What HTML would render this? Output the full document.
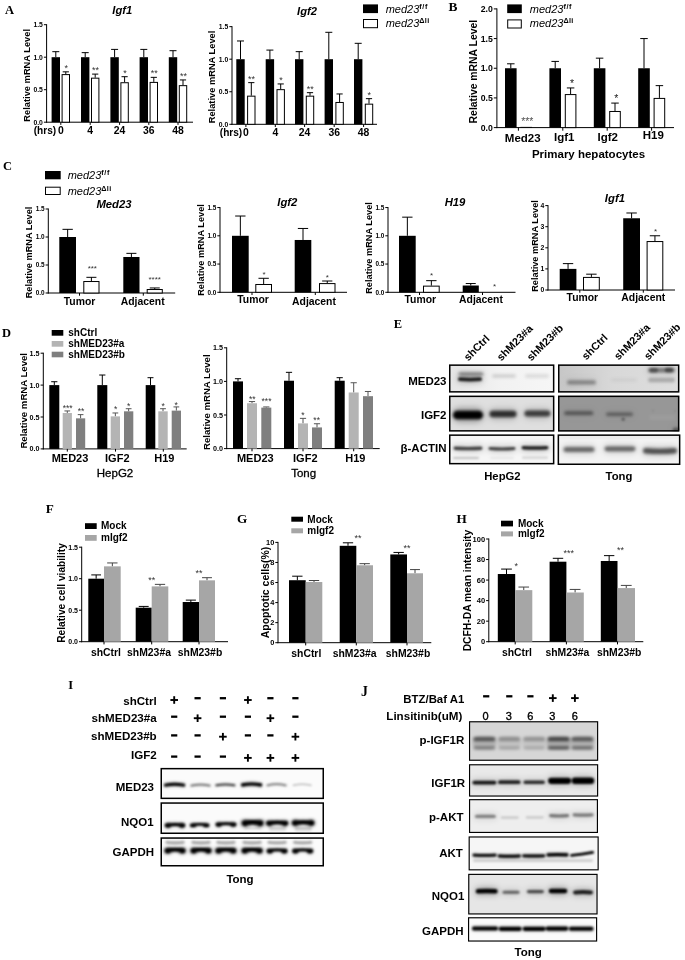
<!DOCTYPE html>
<html lang="en"><head><meta charset="utf-8"><title>Figure</title>
<style>
html,body{margin:0;padding:0;background:#fff}
svg{display:block;filter:blur(.38px)}
svg text{font-family:"Liberation Sans", sans-serif}
svg text.sf{font-family:"Liberation Serif", serif}
</style></head><body>
<svg width="685" height="960" viewBox="0 0 685 960">
<rect width="685" height="960" fill="#fff"/>
<g id="panelA">
<text x="5" y="13.6" font-size="12.5" text-anchor="start" font-weight="bold" class="sf">A</text>
<text x="122.3" y="13.8" font-size="11.2" text-anchor="middle" font-weight="bold" font-style="italic">Igf1</text>
<line x1="46.6" y1="24.2" x2="46.6" y2="122.7" stroke="#000" stroke-width="1"/>
<line x1="46.1" y1="122.2" x2="193" y2="122.2" stroke="#000" stroke-width="1"/>
<line x1="43.9" y1="24.7" x2="46.6" y2="24.7" stroke="#000" stroke-width="1"/>
<text x="42.9" y="27.15" font-size="6.8" text-anchor="end" font-weight="bold">1.5</text>
<line x1="43.9" y1="57.2" x2="46.6" y2="57.2" stroke="#000" stroke-width="1"/>
<text x="42.9" y="59.65" font-size="6.8" text-anchor="end" font-weight="bold">1.0</text>
<line x1="43.9" y1="89.7" x2="46.6" y2="89.7" stroke="#000" stroke-width="1"/>
<text x="42.9" y="92.15" font-size="6.8" text-anchor="end" font-weight="bold">0.5</text>
<line x1="43.9" y1="122.2" x2="46.6" y2="122.2" stroke="#000" stroke-width="1"/>
<text x="42.9" y="124.65" font-size="6.8" text-anchor="end" font-weight="bold">0.0</text>
<text transform="translate(30.2 75.3) rotate(-90)" font-size="9.3" text-anchor="middle" font-weight="bold">Relative mRNA Level</text>
<line x1="55.8" y1="57.2" x2="55.8" y2="51.68" stroke="#000" stroke-width="1"/>
<line x1="52.3" y1="51.68" x2="59.3" y2="51.68" stroke="#000" stroke-width="1"/>
<rect x="51.6" y="57.2" width="8.4" height="65" fill="#000"/>
<line x1="65.8" y1="74.1" x2="65.8" y2="71.83" stroke="#000" stroke-width="1"/>
<line x1="62.7" y1="71.83" x2="68.9" y2="71.83" stroke="#000" stroke-width="1"/>
<rect x="62.1" y="74.6" width="7.4" height="47.6" fill="#fff" stroke="#000" stroke-width="1"/>
<text x="66.2" y="70.92" font-size="9" text-anchor="middle" fill="#333">*</text>
<line x1="85.2" y1="57.2" x2="85.2" y2="52.65" stroke="#000" stroke-width="1"/>
<line x1="81.7" y1="52.65" x2="88.7" y2="52.65" stroke="#000" stroke-width="1"/>
<rect x="81" y="57.2" width="8.4" height="65" fill="#000"/>
<line x1="95.2" y1="77.67" x2="95.2" y2="74.1" stroke="#000" stroke-width="1"/>
<line x1="92.1" y1="74.1" x2="98.3" y2="74.1" stroke="#000" stroke-width="1"/>
<rect x="91.5" y="78.17" width="7.4" height="44.03" fill="#fff" stroke="#000" stroke-width="1"/>
<text x="95.6" y="73.2" font-size="9" text-anchor="middle" fill="#333">**</text>
<line x1="114.6" y1="57.2" x2="114.6" y2="49.4" stroke="#000" stroke-width="1"/>
<line x1="111.1" y1="49.4" x2="118.1" y2="49.4" stroke="#000" stroke-width="1"/>
<rect x="110.4" y="57.2" width="8.4" height="65" fill="#000"/>
<line x1="124.6" y1="82.22" x2="124.6" y2="76.7" stroke="#000" stroke-width="1"/>
<line x1="121.5" y1="76.7" x2="127.7" y2="76.7" stroke="#000" stroke-width="1"/>
<rect x="120.9" y="82.72" width="7.4" height="39.48" fill="#fff" stroke="#000" stroke-width="1"/>
<text x="125" y="75.8" font-size="9" text-anchor="middle" fill="#333">*</text>
<line x1="143.8" y1="57.2" x2="143.8" y2="49.4" stroke="#000" stroke-width="1"/>
<line x1="140.3" y1="49.4" x2="147.3" y2="49.4" stroke="#000" stroke-width="1"/>
<rect x="139.6" y="57.2" width="8.4" height="65" fill="#000"/>
<line x1="153.8" y1="81.9" x2="153.8" y2="77.35" stroke="#000" stroke-width="1"/>
<line x1="150.7" y1="77.35" x2="156.9" y2="77.35" stroke="#000" stroke-width="1"/>
<rect x="150.1" y="82.4" width="7.4" height="39.8" fill="#fff" stroke="#000" stroke-width="1"/>
<text x="154.2" y="76.45" font-size="9" text-anchor="middle" fill="#333">**</text>
<line x1="173" y1="57.2" x2="173" y2="50.7" stroke="#000" stroke-width="1"/>
<line x1="169.5" y1="50.7" x2="176.5" y2="50.7" stroke="#000" stroke-width="1"/>
<rect x="168.8" y="57.2" width="8.4" height="65" fill="#000"/>
<line x1="183" y1="85.15" x2="183" y2="79.95" stroke="#000" stroke-width="1"/>
<line x1="179.9" y1="79.95" x2="186.1" y2="79.95" stroke="#000" stroke-width="1"/>
<rect x="179.3" y="85.65" width="7.4" height="36.55" fill="#fff" stroke="#000" stroke-width="1"/>
<text x="183.4" y="79.05" font-size="9" text-anchor="middle" fill="#333">**</text>
<line x1="60.8" y1="122.2" x2="60.8" y2="124.9" stroke="#000" stroke-width="1"/>
<line x1="90.2" y1="122.2" x2="90.2" y2="124.9" stroke="#000" stroke-width="1"/>
<line x1="119.6" y1="122.2" x2="119.6" y2="124.9" stroke="#000" stroke-width="1"/>
<line x1="148.8" y1="122.2" x2="148.8" y2="124.9" stroke="#000" stroke-width="1"/>
<line x1="178" y1="122.2" x2="178" y2="124.9" stroke="#000" stroke-width="1"/>
<text x="33.7" y="134" font-size="10.1" text-anchor="start" font-weight="bold">(hrs)</text>
<text x="60.8" y="134" font-size="10.4" text-anchor="middle" font-weight="bold">0</text>
<text x="90.2" y="134" font-size="10.4" text-anchor="middle" font-weight="bold">4</text>
<text x="119.6" y="134" font-size="10.4" text-anchor="middle" font-weight="bold">24</text>
<text x="148.8" y="134" font-size="10.4" text-anchor="middle" font-weight="bold">36</text>
<text x="178" y="134" font-size="10.4" text-anchor="middle" font-weight="bold">48</text>
<text x="307" y="14.9" font-size="11.2" text-anchor="middle" font-weight="bold" font-style="italic">Igf2</text>
<line x1="232" y1="26.15" x2="232" y2="124.8" stroke="#000" stroke-width="1"/>
<line x1="231.5" y1="124.3" x2="377" y2="124.3" stroke="#000" stroke-width="1"/>
<line x1="229.3" y1="26.65" x2="232" y2="26.65" stroke="#000" stroke-width="1"/>
<text x="228.3" y="29.1" font-size="6.8" text-anchor="end" font-weight="bold">1.5</text>
<line x1="229.3" y1="59.2" x2="232" y2="59.2" stroke="#000" stroke-width="1"/>
<text x="228.3" y="61.65" font-size="6.8" text-anchor="end" font-weight="bold">1.0</text>
<line x1="229.3" y1="91.75" x2="232" y2="91.75" stroke="#000" stroke-width="1"/>
<text x="228.3" y="94.2" font-size="6.8" text-anchor="end" font-weight="bold">0.5</text>
<line x1="229.3" y1="124.3" x2="232" y2="124.3" stroke="#000" stroke-width="1"/>
<text x="228.3" y="126.75" font-size="6.8" text-anchor="end" font-weight="bold">0.0</text>
<text transform="translate(214.6 77) rotate(-90)" font-size="9.3" text-anchor="middle" font-weight="bold">Relative mRNA Level</text>
<line x1="240.5" y1="59.2" x2="240.5" y2="40.97" stroke="#000" stroke-width="1"/>
<line x1="237" y1="40.97" x2="244" y2="40.97" stroke="#000" stroke-width="1"/>
<rect x="236.3" y="59.2" width="8.4" height="65.1" fill="#000"/>
<line x1="251.3" y1="95.66" x2="251.3" y2="82.64" stroke="#000" stroke-width="1"/>
<line x1="248.2" y1="82.64" x2="254.4" y2="82.64" stroke="#000" stroke-width="1"/>
<rect x="247.6" y="96.16" width="7.4" height="28.14" fill="#fff" stroke="#000" stroke-width="1"/>
<text x="251.5" y="81.74" font-size="9" text-anchor="middle" fill="#333">**</text>
<line x1="269.9" y1="59.2" x2="269.9" y2="50.09" stroke="#000" stroke-width="1"/>
<line x1="266.4" y1="50.09" x2="273.4" y2="50.09" stroke="#000" stroke-width="1"/>
<rect x="265.7" y="59.2" width="8.4" height="65.1" fill="#000"/>
<line x1="280.7" y1="89.15" x2="280.7" y2="83.94" stroke="#000" stroke-width="1"/>
<line x1="277.6" y1="83.94" x2="283.8" y2="83.94" stroke="#000" stroke-width="1"/>
<rect x="277" y="89.65" width="7.4" height="34.65" fill="#fff" stroke="#000" stroke-width="1"/>
<text x="280.9" y="83.04" font-size="9" text-anchor="middle" fill="#333">*</text>
<line x1="299.2" y1="59.2" x2="299.2" y2="51.65" stroke="#000" stroke-width="1"/>
<line x1="295.7" y1="51.65" x2="302.7" y2="51.65" stroke="#000" stroke-width="1"/>
<rect x="295" y="59.2" width="8.4" height="65.1" fill="#000"/>
<line x1="310" y1="95.66" x2="310" y2="92.66" stroke="#000" stroke-width="1"/>
<line x1="306.9" y1="92.66" x2="313.1" y2="92.66" stroke="#000" stroke-width="1"/>
<rect x="306.3" y="96.16" width="7.4" height="28.14" fill="#fff" stroke="#000" stroke-width="1"/>
<text x="310.2" y="91.76" font-size="9" text-anchor="middle" fill="#333">**</text>
<line x1="328.8" y1="59.2" x2="328.8" y2="32.31" stroke="#000" stroke-width="1"/>
<line x1="325.3" y1="32.31" x2="332.3" y2="32.31" stroke="#000" stroke-width="1"/>
<rect x="324.6" y="59.2" width="8.4" height="65.1" fill="#000"/>
<line x1="339.6" y1="101.97" x2="339.6" y2="93.96" stroke="#000" stroke-width="1"/>
<line x1="336.5" y1="93.96" x2="342.7" y2="93.96" stroke="#000" stroke-width="1"/>
<rect x="335.9" y="102.47" width="7.4" height="21.83" fill="#fff" stroke="#000" stroke-width="1"/>
<line x1="358.2" y1="59.2" x2="358.2" y2="43.32" stroke="#000" stroke-width="1"/>
<line x1="354.7" y1="43.32" x2="361.7" y2="43.32" stroke="#000" stroke-width="1"/>
<rect x="354" y="59.2" width="8.4" height="65.1" fill="#000"/>
<line x1="369" y1="103.66" x2="369" y2="98.65" stroke="#000" stroke-width="1"/>
<line x1="365.9" y1="98.65" x2="372.1" y2="98.65" stroke="#000" stroke-width="1"/>
<rect x="365.3" y="104.16" width="7.4" height="20.14" fill="#fff" stroke="#000" stroke-width="1"/>
<text x="369.2" y="97.75" font-size="9" text-anchor="middle" fill="#333">*</text>
<line x1="245.9" y1="124.3" x2="245.9" y2="127" stroke="#000" stroke-width="1"/>
<line x1="275.3" y1="124.3" x2="275.3" y2="127" stroke="#000" stroke-width="1"/>
<line x1="304.6" y1="124.3" x2="304.6" y2="127" stroke="#000" stroke-width="1"/>
<line x1="334.2" y1="124.3" x2="334.2" y2="127" stroke="#000" stroke-width="1"/>
<line x1="363.6" y1="124.3" x2="363.6" y2="127" stroke="#000" stroke-width="1"/>
<text x="219.8" y="136.2" font-size="10.1" text-anchor="start" font-weight="bold">(hrs)</text>
<text x="245.9" y="136.2" font-size="10.4" text-anchor="middle" font-weight="bold">0</text>
<text x="275.3" y="136.2" font-size="10.4" text-anchor="middle" font-weight="bold">4</text>
<text x="304.6" y="136.2" font-size="10.4" text-anchor="middle" font-weight="bold">24</text>
<text x="334.2" y="136.2" font-size="10.4" text-anchor="middle" font-weight="bold">36</text>
<text x="363.6" y="136.2" font-size="10.4" text-anchor="middle" font-weight="bold">48</text>
<rect x="363" y="4.4" width="15" height="8.7" fill="#000"/>
<rect x="363.5" y="19.5" width="14" height="8.2" fill="#fff" stroke="#000" stroke-width="1"/>
<text x="385.7" y="12.8" font-size="11" font-style="italic">med23<tspan font-size="7.26" dy="-3.96" font-style="normal" font-weight="bold" letter-spacing=".6">f/f</tspan></text>
<text x="385.7" y="27.4" font-size="11" font-style="italic">med23<tspan font-size="7.26" dy="-3.96" font-style="normal" font-weight="bold" letter-spacing=".3">Δli</tspan></text>
</g>
<g id="panelB">
<text x="448.6" y="10.7" font-size="13.4" text-anchor="start" font-weight="bold" class="sf">B</text>
<line x1="496.9" y1="8.4" x2="496.9" y2="128.1" stroke="#000" stroke-width="1"/>
<line x1="496.4" y1="127.6" x2="674" y2="127.6" stroke="#000" stroke-width="1"/>
<line x1="493.8" y1="8.9" x2="496.9" y2="8.9" stroke="#000" stroke-width="1"/>
<text x="492.8" y="12.03" font-size="8.7" text-anchor="end" font-weight="bold">2.0</text>
<line x1="493.8" y1="38.57" x2="496.9" y2="38.57" stroke="#000" stroke-width="1"/>
<text x="492.8" y="41.71" font-size="8.7" text-anchor="end" font-weight="bold">1.5</text>
<line x1="493.8" y1="68.25" x2="496.9" y2="68.25" stroke="#000" stroke-width="1"/>
<text x="492.8" y="71.38" font-size="8.7" text-anchor="end" font-weight="bold">1.0</text>
<line x1="493.8" y1="97.92" x2="496.9" y2="97.92" stroke="#000" stroke-width="1"/>
<text x="492.8" y="101.06" font-size="8.7" text-anchor="end" font-weight="bold">0.5</text>
<line x1="493.8" y1="127.6" x2="496.9" y2="127.6" stroke="#000" stroke-width="1"/>
<text x="492.8" y="130.73" font-size="8.7" text-anchor="end" font-weight="bold">0.0</text>
<text transform="translate(476.8 71.6) rotate(-90)" font-size="10.4" text-anchor="middle" font-weight="bold">Relative mRNA Level</text>
<line x1="510.8" y1="68.25" x2="510.8" y2="63.8" stroke="#000" stroke-width="1"/>
<line x1="507.05" y1="63.8" x2="514.55" y2="63.8" stroke="#000" stroke-width="1"/>
<rect x="505" y="68.25" width="11.6" height="59.35" fill="#000"/>
<rect x="520.4" y="126.89" width="11.6" height="0.71" fill="#000"/>
<line x1="555.2" y1="68.25" x2="555.2" y2="61.42" stroke="#000" stroke-width="1"/>
<line x1="551.45" y1="61.42" x2="558.95" y2="61.42" stroke="#000" stroke-width="1"/>
<rect x="549.4" y="68.25" width="11.6" height="59.35" fill="#000"/>
<line x1="570.6" y1="94.07" x2="570.6" y2="87.95" stroke="#000" stroke-width="1"/>
<line x1="566.85" y1="87.95" x2="574.35" y2="87.95" stroke="#000" stroke-width="1"/>
<rect x="565.3" y="94.57" width="10.6" height="33.03" fill="#fff" stroke="#000" stroke-width="1"/>
<line x1="599.6" y1="68.25" x2="599.6" y2="58.16" stroke="#000" stroke-width="1"/>
<line x1="595.85" y1="58.16" x2="603.35" y2="58.16" stroke="#000" stroke-width="1"/>
<rect x="593.8" y="68.25" width="11.6" height="59.35" fill="#000"/>
<line x1="615" y1="110.98" x2="615" y2="103.09" stroke="#000" stroke-width="1"/>
<line x1="611.25" y1="103.09" x2="618.75" y2="103.09" stroke="#000" stroke-width="1"/>
<rect x="609.7" y="111.48" width="10.6" height="16.12" fill="#fff" stroke="#000" stroke-width="1"/>
<line x1="644" y1="68.25" x2="644" y2="38.57" stroke="#000" stroke-width="1"/>
<line x1="640.25" y1="38.57" x2="647.75" y2="38.57" stroke="#000" stroke-width="1"/>
<rect x="638.2" y="68.25" width="11.6" height="59.35" fill="#000"/>
<line x1="659.4" y1="97.92" x2="659.4" y2="85.64" stroke="#000" stroke-width="1"/>
<line x1="655.65" y1="85.64" x2="663.15" y2="85.64" stroke="#000" stroke-width="1"/>
<rect x="654.1" y="98.42" width="10.6" height="29.17" fill="#fff" stroke="#000" stroke-width="1"/>
<text x="527.3" y="125.2" font-size="10.5" text-anchor="middle" fill="#555">***</text>
<text x="572" y="87.35" font-size="10.5" text-anchor="middle" fill="#222">*</text>
<text x="616.2" y="102.49" font-size="10.5" text-anchor="middle" fill="#222">*</text>
<line x1="518.4" y1="127.6" x2="518.4" y2="130.7" stroke="#000" stroke-width="1"/>
<line x1="562.8" y1="127.6" x2="562.8" y2="130.7" stroke="#000" stroke-width="1"/>
<line x1="607.2" y1="127.6" x2="607.2" y2="130.7" stroke="#000" stroke-width="1"/>
<line x1="651.6" y1="127.6" x2="651.6" y2="130.7" stroke="#000" stroke-width="1"/>
<text x="522.7" y="141.7" font-size="11.5" text-anchor="middle" font-weight="bold">Med23</text>
<text x="564.3" y="140.7" font-size="11.5" text-anchor="middle" font-weight="bold">Igf1</text>
<text x="607.7" y="140.7" font-size="11.5" text-anchor="middle" font-weight="bold">Igf2</text>
<text x="653.3" y="139.3" font-size="11.5" text-anchor="middle" font-weight="bold">H19</text>
<text x="588.5" y="157.5" font-size="11.5" text-anchor="middle" font-weight="bold">Primary hepatocytes</text>
<rect x="507.2" y="4.4" width="14.6" height="8.7" fill="#000"/>
<rect x="507.7" y="19.9" width="13.6" height="8.1" fill="#fff" stroke="#000" stroke-width="1"/>
<text x="529.8" y="12.8" font-size="11" font-style="italic">med23<tspan font-size="7.26" dy="-3.96" font-style="normal" font-weight="bold" letter-spacing=".6">f/f</tspan></text>
<text x="529.8" y="27.4" font-size="11" font-style="italic">med23<tspan font-size="7.26" dy="-3.96" font-style="normal" font-weight="bold" letter-spacing=".3">Δli</tspan></text>
</g>
<g id="panelC">
<text x="3" y="169.8" font-size="12.5" text-anchor="start" font-weight="bold" class="sf">C</text>
<rect x="45" y="171" width="15.7" height="8.3" fill="#000"/>
<rect x="45.5" y="187.2" width="14.7" height="7.3" fill="#fff" stroke="#000" stroke-width="1"/>
<text x="67.7" y="179.4" font-size="11" font-style="italic">med23<tspan font-size="7.26" dy="-3.96" font-style="normal" font-weight="bold" letter-spacing=".6">f/f</tspan></text>
<text x="67.7" y="194.7" font-size="11" font-style="italic">med23<tspan font-size="7.26" dy="-3.96" font-style="normal" font-weight="bold" letter-spacing=".3">Δli</tspan></text>
<line x1="48.3" y1="208.5" x2="48.3" y2="293.5" stroke="#000" stroke-width="1"/>
<line x1="47.8" y1="293" x2="175.2" y2="293" stroke="#000" stroke-width="1"/>
<line x1="45.6" y1="209" x2="48.3" y2="209" stroke="#000" stroke-width="1"/>
<text x="44.6" y="211.3" font-size="6.4" text-anchor="end" font-weight="bold">1.5</text>
<line x1="45.6" y1="237" x2="48.3" y2="237" stroke="#000" stroke-width="1"/>
<text x="44.6" y="239.3" font-size="6.4" text-anchor="end" font-weight="bold">1.0</text>
<line x1="45.6" y1="265" x2="48.3" y2="265" stroke="#000" stroke-width="1"/>
<text x="44.6" y="267.3" font-size="6.4" text-anchor="end" font-weight="bold">0.5</text>
<line x1="45.6" y1="293" x2="48.3" y2="293" stroke="#000" stroke-width="1"/>
<text x="44.6" y="295.3" font-size="6.4" text-anchor="end" font-weight="bold">0.0</text>
<text transform="translate(32.2 252.5) rotate(-90)" font-size="9.2" text-anchor="middle" font-weight="bold">Relative mRNA Level</text>
<text x="114" y="208.3" font-size="11.3" text-anchor="middle" font-weight="bold" font-style="italic">Med23</text>
<line x1="67.65" y1="237" x2="67.65" y2="229.33" stroke="#000" stroke-width="1"/>
<line x1="62.47" y1="229.33" x2="72.83" y2="229.33" stroke="#000" stroke-width="1"/>
<rect x="59.3" y="237" width="16.7" height="56" fill="#000"/>
<line x1="91.4" y1="281.02" x2="91.4" y2="277.32" stroke="#000" stroke-width="1"/>
<line x1="86.38" y1="277.32" x2="96.42" y2="277.32" stroke="#000" stroke-width="1"/>
<rect x="83.8" y="281.52" width="15.2" height="11.48" fill="#fff" stroke="#000" stroke-width="1"/>
<line x1="131.4" y1="256.99" x2="131.4" y2="253.35" stroke="#000" stroke-width="1"/>
<line x1="126.38" y1="253.35" x2="136.42" y2="253.35" stroke="#000" stroke-width="1"/>
<rect x="123.3" y="256.99" width="16.2" height="36.01" fill="#000"/>
<line x1="154.75" y1="289.02" x2="154.75" y2="287.96" stroke="#000" stroke-width="1"/>
<line x1="149.76" y1="287.96" x2="159.74" y2="287.96" stroke="#000" stroke-width="1"/>
<rect x="147.2" y="289.52" width="15.1" height="3.48" fill="#fff" stroke="#000" stroke-width="1"/>
<text x="92.3" y="271.3" font-size="8" text-anchor="middle" fill="#333">***</text>
<text x="154.7" y="282.2" font-size="8" text-anchor="middle" fill="#333">****</text>
<line x1="79.5" y1="293" x2="79.5" y2="295.7" stroke="#000" stroke-width="1"/>
<text x="79.5" y="305.3" font-size="10.4" text-anchor="middle" font-weight="bold">Tumor</text>
<line x1="143.3" y1="293" x2="143.3" y2="295.7" stroke="#000" stroke-width="1"/>
<text x="142.7" y="305.3" font-size="10.4" text-anchor="middle" font-weight="bold">Adjacent</text>
<line x1="220" y1="207.05" x2="220" y2="292.8" stroke="#000" stroke-width="1"/>
<line x1="219.5" y1="292.3" x2="347" y2="292.3" stroke="#000" stroke-width="1"/>
<line x1="217.3" y1="207.55" x2="220" y2="207.55" stroke="#000" stroke-width="1"/>
<text x="216.3" y="209.85" font-size="6.4" text-anchor="end" font-weight="bold">1.5</text>
<line x1="217.3" y1="235.8" x2="220" y2="235.8" stroke="#000" stroke-width="1"/>
<text x="216.3" y="238.1" font-size="6.4" text-anchor="end" font-weight="bold">1.0</text>
<line x1="217.3" y1="264.05" x2="220" y2="264.05" stroke="#000" stroke-width="1"/>
<text x="216.3" y="266.35" font-size="6.4" text-anchor="end" font-weight="bold">0.5</text>
<line x1="217.3" y1="292.3" x2="220" y2="292.3" stroke="#000" stroke-width="1"/>
<text x="216.3" y="294.6" font-size="6.4" text-anchor="end" font-weight="bold">0.0</text>
<text transform="translate(203.6 250) rotate(-90)" font-size="9.2" text-anchor="middle" font-weight="bold">Relative mRNA Level</text>
<text x="287.3" y="206.3" font-size="11.3" text-anchor="middle" font-weight="bold" font-style="italic">Igf2</text>
<line x1="240.35" y1="235.8" x2="240.35" y2="216.03" stroke="#000" stroke-width="1"/>
<line x1="235.17" y1="216.03" x2="245.53" y2="216.03" stroke="#000" stroke-width="1"/>
<rect x="232" y="235.8" width="16.7" height="56.5" fill="#000"/>
<line x1="263.65" y1="283.99" x2="263.65" y2="278.29" stroke="#000" stroke-width="1"/>
<line x1="258.47" y1="278.29" x2="268.83" y2="278.29" stroke="#000" stroke-width="1"/>
<rect x="255.8" y="284.49" width="15.7" height="7.81" fill="#fff" stroke="#000" stroke-width="1"/>
<line x1="303" y1="239.98" x2="303" y2="228.46" stroke="#000" stroke-width="1"/>
<line x1="297.85" y1="228.46" x2="308.15" y2="228.46" stroke="#000" stroke-width="1"/>
<rect x="294.7" y="239.98" width="16.6" height="52.32" fill="#000"/>
<line x1="327.25" y1="283.09" x2="327.25" y2="281" stroke="#000" stroke-width="1"/>
<line x1="322.13" y1="281" x2="332.37" y2="281" stroke="#000" stroke-width="1"/>
<rect x="319.5" y="283.59" width="15.5" height="8.71" fill="#fff" stroke="#000" stroke-width="1"/>
<text x="264" y="277" font-size="8" text-anchor="middle" fill="#333">*</text>
<text x="327.3" y="279.5" font-size="8" text-anchor="middle" fill="#333">*</text>
<line x1="252" y1="292.3" x2="252" y2="295" stroke="#000" stroke-width="1"/>
<text x="253" y="303.3" font-size="10.4" text-anchor="middle" font-weight="bold">Tumor</text>
<line x1="315.3" y1="292.3" x2="315.3" y2="295" stroke="#000" stroke-width="1"/>
<text x="314" y="305" font-size="10.4" text-anchor="middle" font-weight="bold">Adjacent</text>
<line x1="388" y1="207.05" x2="388" y2="292.8" stroke="#000" stroke-width="1"/>
<line x1="387.5" y1="292.3" x2="515.5" y2="292.3" stroke="#000" stroke-width="1"/>
<line x1="385.3" y1="207.55" x2="388" y2="207.55" stroke="#000" stroke-width="1"/>
<text x="384.3" y="209.85" font-size="6.4" text-anchor="end" font-weight="bold">1.5</text>
<line x1="385.3" y1="235.8" x2="388" y2="235.8" stroke="#000" stroke-width="1"/>
<text x="384.3" y="238.1" font-size="6.4" text-anchor="end" font-weight="bold">1.0</text>
<line x1="385.3" y1="264.05" x2="388" y2="264.05" stroke="#000" stroke-width="1"/>
<text x="384.3" y="266.35" font-size="6.4" text-anchor="end" font-weight="bold">0.5</text>
<line x1="385.3" y1="292.3" x2="388" y2="292.3" stroke="#000" stroke-width="1"/>
<text x="384.3" y="294.6" font-size="6.4" text-anchor="end" font-weight="bold">0.0</text>
<text transform="translate(371.8 248) rotate(-90)" font-size="9.2" text-anchor="middle" font-weight="bold">Relative mRNA Level</text>
<text x="455" y="206.3" font-size="11.3" text-anchor="middle" font-weight="bold" font-style="italic">H19</text>
<line x1="407.35" y1="235.8" x2="407.35" y2="217.16" stroke="#000" stroke-width="1"/>
<line x1="402.17" y1="217.16" x2="412.53" y2="217.16" stroke="#000" stroke-width="1"/>
<rect x="399" y="235.8" width="16.7" height="56.5" fill="#000"/>
<line x1="431.35" y1="285.63" x2="431.35" y2="280.66" stroke="#000" stroke-width="1"/>
<line x1="426.17" y1="280.66" x2="436.53" y2="280.66" stroke="#000" stroke-width="1"/>
<rect x="423.5" y="286.13" width="15.7" height="6.17" fill="#fff" stroke="#000" stroke-width="1"/>
<line x1="470.75" y1="285.52" x2="470.75" y2="283.54" stroke="#000" stroke-width="1"/>
<line x1="465.76" y1="283.54" x2="475.74" y2="283.54" stroke="#000" stroke-width="1"/>
<rect x="462.7" y="285.52" width="16.1" height="6.78" fill="#000"/>
<text x="431.5" y="277.5" font-size="8" text-anchor="middle" fill="#333">*</text>
<text x="494.5" y="289" font-size="8" text-anchor="middle" fill="#333">*</text>
<line x1="419.5" y1="292.3" x2="419.5" y2="295" stroke="#000" stroke-width="1"/>
<text x="420.3" y="303.3" font-size="10.4" text-anchor="middle" font-weight="bold">Tumor</text>
<line x1="482.5" y1="292.3" x2="482.5" y2="295" stroke="#000" stroke-width="1"/>
<text x="481" y="302.7" font-size="10.4" text-anchor="middle" font-weight="bold">Adjacent</text>
<line x1="548" y1="205.1" x2="548" y2="290.5" stroke="#000" stroke-width="1"/>
<line x1="547.5" y1="290" x2="675" y2="290" stroke="#000" stroke-width="1"/>
<line x1="545.3" y1="205.6" x2="548" y2="205.6" stroke="#000" stroke-width="1"/>
<text x="544.3" y="208.05" font-size="6.8" text-anchor="end" font-weight="bold">4</text>
<line x1="545.3" y1="226.7" x2="548" y2="226.7" stroke="#000" stroke-width="1"/>
<text x="544.3" y="229.15" font-size="6.8" text-anchor="end" font-weight="bold">3</text>
<line x1="545.3" y1="247.8" x2="548" y2="247.8" stroke="#000" stroke-width="1"/>
<text x="544.3" y="250.25" font-size="6.8" text-anchor="end" font-weight="bold">2</text>
<line x1="545.3" y1="268.9" x2="548" y2="268.9" stroke="#000" stroke-width="1"/>
<text x="544.3" y="271.35" font-size="6.8" text-anchor="end" font-weight="bold">1</text>
<line x1="545.3" y1="290" x2="548" y2="290" stroke="#000" stroke-width="1"/>
<text x="544.3" y="292.45" font-size="6.8" text-anchor="end" font-weight="bold">0</text>
<text transform="translate(537.8 246) rotate(-90)" font-size="9.2" text-anchor="middle" font-weight="bold">Relative mRNA Level</text>
<text x="614.9" y="202.3" font-size="11.3" text-anchor="middle" font-weight="bold" font-style="italic">Igf1</text>
<line x1="568.05" y1="268.9" x2="568.05" y2="263.62" stroke="#000" stroke-width="1"/>
<line x1="562.87" y1="263.62" x2="573.23" y2="263.62" stroke="#000" stroke-width="1"/>
<rect x="559.7" y="268.9" width="16.7" height="21.1" fill="#000"/>
<line x1="591.4" y1="276.92" x2="591.4" y2="274.18" stroke="#000" stroke-width="1"/>
<line x1="586.19" y1="274.18" x2="596.61" y2="274.18" stroke="#000" stroke-width="1"/>
<rect x="583.5" y="277.42" width="15.8" height="12.58" fill="#fff" stroke="#000" stroke-width="1"/>
<line x1="631.6" y1="218.26" x2="631.6" y2="212.99" stroke="#000" stroke-width="1"/>
<line x1="626.39" y1="212.99" x2="636.81" y2="212.99" stroke="#000" stroke-width="1"/>
<rect x="623.2" y="218.26" width="16.8" height="71.74" fill="#000"/>
<line x1="654.95" y1="241.05" x2="654.95" y2="235.77" stroke="#000" stroke-width="1"/>
<line x1="649.77" y1="235.77" x2="660.13" y2="235.77" stroke="#000" stroke-width="1"/>
<rect x="647.1" y="241.55" width="15.7" height="48.45" fill="#fff" stroke="#000" stroke-width="1"/>
<text x="655.5" y="233.5" font-size="8" text-anchor="middle" fill="#333">*</text>
<line x1="579.8" y1="290" x2="579.8" y2="292.7" stroke="#000" stroke-width="1"/>
<text x="582.4" y="301" font-size="10.4" text-anchor="middle" font-weight="bold">Tumor</text>
<line x1="643.3" y1="290" x2="643.3" y2="292.7" stroke="#000" stroke-width="1"/>
<text x="643.3" y="301" font-size="10.4" text-anchor="middle" font-weight="bold">Adjacent</text>
</g>
<g id="panelD">
<text x="2" y="336.5" font-size="12.5" text-anchor="start" font-weight="bold" class="sf">D</text>
<rect x="51.7" y="330" width="11.6" height="5.7" fill="#000"/>
<text x="68.3" y="335.9" font-size="10" text-anchor="start" font-weight="bold">shCtrl</text>
<rect x="51.7" y="341" width="11.6" height="5.7" fill="#b4b4b4"/>
<text x="68.3" y="346.9" font-size="10" text-anchor="start" font-weight="bold">shMED23#a</text>
<rect x="51.7" y="351.7" width="11.6" height="5.6" fill="#7f7f7f"/>
<text x="68.3" y="357.5" font-size="10" text-anchor="start" font-weight="bold">shMED23#b</text>
<line x1="43.3" y1="352.7" x2="43.3" y2="449.4" stroke="#000" stroke-width="1"/>
<line x1="42.8" y1="448.9" x2="186.7" y2="448.9" stroke="#000" stroke-width="1"/>
<line x1="40.6" y1="353.2" x2="43.3" y2="353.2" stroke="#000" stroke-width="1"/>
<text x="39.6" y="355.79" font-size="7.2" text-anchor="end" font-weight="bold">1.5</text>
<line x1="40.6" y1="385.1" x2="43.3" y2="385.1" stroke="#000" stroke-width="1"/>
<text x="39.6" y="387.69" font-size="7.2" text-anchor="end" font-weight="bold">1.0</text>
<line x1="40.6" y1="417" x2="43.3" y2="417" stroke="#000" stroke-width="1"/>
<text x="39.6" y="419.59" font-size="7.2" text-anchor="end" font-weight="bold">0.5</text>
<line x1="40.6" y1="448.9" x2="43.3" y2="448.9" stroke="#000" stroke-width="1"/>
<text x="39.6" y="451.49" font-size="7.2" text-anchor="end" font-weight="bold">0.0</text>
<text transform="translate(26.9 400.8) rotate(-90)" font-size="9.6" text-anchor="middle" font-weight="bold">Relative mRNA Level</text>
<line x1="54.3" y1="385.1" x2="54.3" y2="381.72" stroke="#000" stroke-width="1"/>
<line x1="51.2" y1="381.72" x2="57.4" y2="381.72" stroke="#000" stroke-width="1"/>
<rect x="49.3" y="385.1" width="10" height="63.8" fill="#000"/>
<line x1="67.3" y1="412.98" x2="67.3" y2="410.94" stroke="#555" stroke-width="1"/>
<line x1="64.45" y1="410.94" x2="70.15" y2="410.94" stroke="#555" stroke-width="1"/>
<rect x="62.7" y="412.98" width="9.2" height="35.92" fill="#b4b4b4"/>
<line x1="80.6" y1="418.34" x2="80.6" y2="414.64" stroke="#555" stroke-width="1"/>
<line x1="77.75" y1="414.64" x2="83.45" y2="414.64" stroke="#555" stroke-width="1"/>
<rect x="76" y="418.34" width="9.2" height="30.56" fill="#7f7f7f"/>
<line x1="102.3" y1="385.1" x2="102.3" y2="375.02" stroke="#000" stroke-width="1"/>
<line x1="99.2" y1="375.02" x2="105.4" y2="375.02" stroke="#000" stroke-width="1"/>
<rect x="97.3" y="385.1" width="10" height="63.8" fill="#000"/>
<line x1="115.35" y1="416.36" x2="115.35" y2="412.98" stroke="#555" stroke-width="1"/>
<line x1="112.47" y1="412.98" x2="118.23" y2="412.98" stroke="#555" stroke-width="1"/>
<rect x="110.7" y="416.36" width="9.3" height="32.54" fill="#b4b4b4"/>
<line x1="128.65" y1="411.32" x2="128.65" y2="408.71" stroke="#555" stroke-width="1"/>
<line x1="125.77" y1="408.71" x2="131.53" y2="408.71" stroke="#555" stroke-width="1"/>
<rect x="124" y="411.32" width="9.3" height="37.58" fill="#7f7f7f"/>
<line x1="150.5" y1="385.1" x2="150.5" y2="377.7" stroke="#000" stroke-width="1"/>
<line x1="147.52" y1="377.7" x2="153.48" y2="377.7" stroke="#000" stroke-width="1"/>
<rect x="145.7" y="385.1" width="9.6" height="63.8" fill="#000"/>
<line x1="163" y1="411.32" x2="163" y2="408.71" stroke="#555" stroke-width="1"/>
<line x1="160.09" y1="408.71" x2="165.91" y2="408.71" stroke="#555" stroke-width="1"/>
<rect x="158.3" y="411.32" width="9.4" height="37.58" fill="#b4b4b4"/>
<line x1="176.35" y1="410.62" x2="176.35" y2="406.92" stroke="#555" stroke-width="1"/>
<line x1="173.47" y1="406.92" x2="179.23" y2="406.92" stroke="#555" stroke-width="1"/>
<rect x="171.7" y="410.62" width="9.3" height="38.28" fill="#7f7f7f"/>
<text x="67.7" y="411.3" font-size="8.6" text-anchor="middle" fill="#333">***</text>
<text x="81" y="414" font-size="8.6" text-anchor="middle" fill="#333">**</text>
<text x="115.7" y="412.3" font-size="8.6" text-anchor="middle" fill="#333">*</text>
<text x="128.7" y="408.5" font-size="8.6" text-anchor="middle" fill="#333">*</text>
<text x="163.3" y="408.6" font-size="8.6" text-anchor="middle" fill="#333">*</text>
<text x="176.3" y="407.8" font-size="8.6" text-anchor="middle" fill="#333">*</text>
<line x1="67.3" y1="448.9" x2="67.3" y2="451.6" stroke="#000" stroke-width="1"/>
<text x="70" y="462.2" font-size="11" text-anchor="middle" font-weight="bold">MED23</text>
<line x1="115.5" y1="448.9" x2="115.5" y2="451.6" stroke="#000" stroke-width="1"/>
<text x="117.3" y="462.2" font-size="11" text-anchor="middle" font-weight="bold">IGF2</text>
<line x1="163.3" y1="448.9" x2="163.3" y2="451.6" stroke="#000" stroke-width="1"/>
<text x="164.3" y="462.2" font-size="11" text-anchor="middle" font-weight="bold">H19</text>
<text x="115" y="477.3" font-size="11.5" text-anchor="middle" stroke="#000" stroke-width=".3">HepG2</text>
<line x1="226.7" y1="347.3" x2="226.7" y2="449.1" stroke="#000" stroke-width="1"/>
<line x1="226.2" y1="448.6" x2="379.7" y2="448.6" stroke="#000" stroke-width="1"/>
<line x1="224" y1="347.8" x2="226.7" y2="347.8" stroke="#000" stroke-width="1"/>
<text x="223" y="350.39" font-size="7.2" text-anchor="end" font-weight="bold">1.5</text>
<line x1="224" y1="381.4" x2="226.7" y2="381.4" stroke="#000" stroke-width="1"/>
<text x="223" y="383.99" font-size="7.2" text-anchor="end" font-weight="bold">1.0</text>
<line x1="224" y1="415" x2="226.7" y2="415" stroke="#000" stroke-width="1"/>
<text x="223" y="417.59" font-size="7.2" text-anchor="end" font-weight="bold">0.5</text>
<line x1="224" y1="448.6" x2="226.7" y2="448.6" stroke="#000" stroke-width="1"/>
<text x="223" y="451.19" font-size="7.2" text-anchor="end" font-weight="bold">0.0</text>
<text transform="translate(209.5 402.2) rotate(-90)" font-size="9.6" text-anchor="middle" font-weight="bold">Relative mRNA Level</text>
<line x1="238" y1="381.4" x2="238" y2="378.71" stroke="#000" stroke-width="1"/>
<line x1="234.9" y1="378.71" x2="241.1" y2="378.71" stroke="#000" stroke-width="1"/>
<rect x="233" y="381.4" width="10" height="67.2" fill="#000"/>
<line x1="252" y1="403.24" x2="252" y2="401.56" stroke="#555" stroke-width="1"/>
<line x1="248.9" y1="401.56" x2="255.1" y2="401.56" stroke="#555" stroke-width="1"/>
<rect x="247" y="403.24" width="10" height="45.36" fill="#b4b4b4"/>
<line x1="266.3" y1="407.61" x2="266.3" y2="406.94" stroke="#555" stroke-width="1"/>
<line x1="263.2" y1="406.94" x2="269.4" y2="406.94" stroke="#555" stroke-width="1"/>
<rect x="261.3" y="407.61" width="10" height="40.99" fill="#7f7f7f"/>
<line x1="289" y1="380.73" x2="289" y2="372.33" stroke="#000" stroke-width="1"/>
<line x1="285.9" y1="372.33" x2="292.1" y2="372.33" stroke="#000" stroke-width="1"/>
<rect x="284" y="380.73" width="10" height="67.87" fill="#000"/>
<line x1="303" y1="423.4" x2="303" y2="418.36" stroke="#555" stroke-width="1"/>
<line x1="299.9" y1="418.36" x2="306.1" y2="418.36" stroke="#555" stroke-width="1"/>
<rect x="298" y="423.4" width="10" height="25.2" fill="#b4b4b4"/>
<line x1="317" y1="427.43" x2="317" y2="423.74" stroke="#555" stroke-width="1"/>
<line x1="313.9" y1="423.74" x2="320.1" y2="423.74" stroke="#555" stroke-width="1"/>
<rect x="312" y="427.43" width="10" height="21.17" fill="#7f7f7f"/>
<line x1="339.7" y1="380.73" x2="339.7" y2="377.7" stroke="#000" stroke-width="1"/>
<line x1="336.6" y1="377.7" x2="342.8" y2="377.7" stroke="#000" stroke-width="1"/>
<rect x="334.7" y="380.73" width="10" height="67.87" fill="#000"/>
<line x1="353.7" y1="392.49" x2="353.7" y2="382.74" stroke="#555" stroke-width="1"/>
<line x1="350.6" y1="382.74" x2="356.8" y2="382.74" stroke="#555" stroke-width="1"/>
<rect x="348.7" y="392.49" width="10" height="56.11" fill="#b4b4b4"/>
<line x1="368" y1="396.18" x2="368" y2="391.48" stroke="#555" stroke-width="1"/>
<line x1="364.9" y1="391.48" x2="371.1" y2="391.48" stroke="#555" stroke-width="1"/>
<rect x="363" y="396.18" width="10" height="52.42" fill="#7f7f7f"/>
<text x="252.3" y="401.5" font-size="8.6" text-anchor="middle" fill="#333">**</text>
<text x="266.5" y="404.3" font-size="8.6" text-anchor="middle" fill="#333">***</text>
<text x="303" y="418.3" font-size="8.6" text-anchor="middle" fill="#333">*</text>
<text x="316.7" y="422.8" font-size="8.6" text-anchor="middle" fill="#333">**</text>
<line x1="252" y1="448.6" x2="252" y2="451.3" stroke="#000" stroke-width="1"/>
<text x="255.3" y="462.2" font-size="11" text-anchor="middle" font-weight="bold">MED23</text>
<line x1="303" y1="448.6" x2="303" y2="451.3" stroke="#000" stroke-width="1"/>
<text x="305.3" y="462.2" font-size="11" text-anchor="middle" font-weight="bold">IGF2</text>
<line x1="353.7" y1="448.6" x2="353.7" y2="451.3" stroke="#000" stroke-width="1"/>
<text x="355.3" y="462.2" font-size="11" text-anchor="middle" font-weight="bold">H19</text>
<text x="303.7" y="477.3" font-size="11.5" text-anchor="middle" stroke="#000" stroke-width=".3">Tong</text>
</g>
<g id="panelF">
<text x="45.7" y="513.3" font-size="13.2" text-anchor="start" font-weight="bold" class="sf">F</text>
<line x1="81.7" y1="546.7" x2="81.7" y2="642.2" stroke="#000" stroke-width="1"/>
<line x1="81.2" y1="641.7" x2="228" y2="641.7" stroke="#000" stroke-width="1"/>
<line x1="79" y1="547.2" x2="81.7" y2="547.2" stroke="#000" stroke-width="1"/>
<text x="78" y="549.72" font-size="7" text-anchor="end" font-weight="bold">1.5</text>
<line x1="79" y1="578.7" x2="81.7" y2="578.7" stroke="#000" stroke-width="1"/>
<text x="78" y="581.22" font-size="7" text-anchor="end" font-weight="bold">1.0</text>
<line x1="79" y1="610.2" x2="81.7" y2="610.2" stroke="#000" stroke-width="1"/>
<text x="78" y="612.72" font-size="7" text-anchor="end" font-weight="bold">0.5</text>
<line x1="79" y1="641.7" x2="81.7" y2="641.7" stroke="#000" stroke-width="1"/>
<text x="78" y="644.22" font-size="7" text-anchor="end" font-weight="bold">0.0</text>
<text transform="translate(65 593) rotate(-90)" font-size="10.2" text-anchor="middle" font-weight="bold">Relative cell viability</text>
<line x1="96.15" y1="578.7" x2="96.15" y2="574.92" stroke="#000" stroke-width="1"/>
<line x1="91.28" y1="574.92" x2="101.02" y2="574.92" stroke="#000" stroke-width="1"/>
<rect x="88.3" y="578.7" width="15.7" height="63" fill="#000"/>
<line x1="112.35" y1="566.35" x2="112.35" y2="562.95" stroke="#444" stroke-width="1"/>
<line x1="107.17" y1="562.95" x2="117.53" y2="562.95" stroke="#444" stroke-width="1"/>
<rect x="104" y="566.35" width="16.7" height="75.35" fill="#a6a6a6"/>
<line x1="143.7" y1="607.68" x2="143.7" y2="606.42" stroke="#000" stroke-width="1"/>
<line x1="138.74" y1="606.42" x2="148.66" y2="606.42" stroke="#000" stroke-width="1"/>
<rect x="135.7" y="607.68" width="16" height="34.02" fill="#000"/>
<line x1="160" y1="586.39" x2="160" y2="584.37" stroke="#444" stroke-width="1"/>
<line x1="154.85" y1="584.37" x2="165.15" y2="584.37" stroke="#444" stroke-width="1"/>
<rect x="151.7" y="586.39" width="16.6" height="55.31" fill="#a6a6a6"/>
<line x1="190.85" y1="602.01" x2="190.85" y2="600.12" stroke="#000" stroke-width="1"/>
<line x1="185.8" y1="600.12" x2="195.9" y2="600.12" stroke="#000" stroke-width="1"/>
<rect x="182.7" y="602.01" width="16.3" height="39.69" fill="#000"/>
<line x1="207" y1="580.34" x2="207" y2="577.69" stroke="#444" stroke-width="1"/>
<line x1="202.04" y1="577.69" x2="211.96" y2="577.69" stroke="#444" stroke-width="1"/>
<rect x="199" y="580.34" width="16" height="61.36" fill="#a6a6a6"/>
<text x="151.7" y="583.1" font-size="9" text-anchor="middle" fill="#333">**</text>
<text x="199" y="576.1" font-size="9" text-anchor="middle" fill="#333">**</text>
<line x1="104" y1="641.7" x2="104" y2="644.4" stroke="#000" stroke-width="1"/>
<text x="106" y="655.7" font-size="10.4" text-anchor="middle" font-weight="bold">shCtrl</text>
<line x1="151.7" y1="641.7" x2="151.7" y2="644.4" stroke="#000" stroke-width="1"/>
<text x="149" y="655.7" font-size="10.4" text-anchor="middle" font-weight="bold">shM23#a</text>
<line x1="199" y1="641.7" x2="199" y2="644.4" stroke="#000" stroke-width="1"/>
<text x="200" y="655.7" font-size="10.4" text-anchor="middle" font-weight="bold">shM23#b</text>
<rect x="85" y="523.2" width="11.7" height="5.8" fill="#000"/>
<text x="101" y="529.4" font-size="10" text-anchor="start" font-weight="bold">Mock</text>
<rect x="85" y="535" width="11.7" height="5.8" fill="#a6a6a6"/>
<text x="101" y="540.6" font-size="10" text-anchor="start" font-weight="bold">mIgf2</text>
</g>
<g id="panelG">
<text x="237" y="523.3" font-size="13.2" text-anchor="start" font-weight="bold" class="sf">G</text>
<line x1="278" y1="541.9" x2="278" y2="643.2" stroke="#000" stroke-width="1"/>
<line x1="277.5" y1="642.7" x2="431.3" y2="642.7" stroke="#000" stroke-width="1"/>
<line x1="275.3" y1="542.4" x2="278" y2="542.4" stroke="#000" stroke-width="1"/>
<text x="274.3" y="545.06" font-size="7.4" text-anchor="end" font-weight="bold">10</text>
<line x1="275.3" y1="562.46" x2="278" y2="562.46" stroke="#000" stroke-width="1"/>
<text x="274.3" y="565.12" font-size="7.4" text-anchor="end" font-weight="bold">8</text>
<line x1="275.3" y1="582.52" x2="278" y2="582.52" stroke="#000" stroke-width="1"/>
<text x="274.3" y="585.18" font-size="7.4" text-anchor="end" font-weight="bold">6</text>
<line x1="275.3" y1="602.58" x2="278" y2="602.58" stroke="#000" stroke-width="1"/>
<text x="274.3" y="605.24" font-size="7.4" text-anchor="end" font-weight="bold">4</text>
<line x1="275.3" y1="622.64" x2="278" y2="622.64" stroke="#000" stroke-width="1"/>
<text x="274.3" y="625.3" font-size="7.4" text-anchor="end" font-weight="bold">2</text>
<line x1="275.3" y1="642.7" x2="278" y2="642.7" stroke="#000" stroke-width="1"/>
<text x="274.3" y="645.36" font-size="7.4" text-anchor="end" font-weight="bold">0</text>
<text transform="translate(268.9 592.5) rotate(-90)" font-size="10.5" text-anchor="middle" font-weight="bold">Apoptotic cells(%)</text>
<line x1="297.35" y1="580.21" x2="297.35" y2="576.2" stroke="#000" stroke-width="1"/>
<line x1="292.17" y1="576.2" x2="302.53" y2="576.2" stroke="#000" stroke-width="1"/>
<rect x="289" y="580.21" width="16.7" height="62.49" fill="#000"/>
<line x1="314" y1="582.02" x2="314" y2="580.51" stroke="#444" stroke-width="1"/>
<line x1="308.85" y1="580.51" x2="319.15" y2="580.51" stroke="#444" stroke-width="1"/>
<rect x="305.7" y="582.02" width="16.6" height="60.68" fill="#a6a6a6"/>
<line x1="348" y1="545.81" x2="348" y2="542.8" stroke="#000" stroke-width="1"/>
<line x1="342.85" y1="542.8" x2="353.15" y2="542.8" stroke="#000" stroke-width="1"/>
<rect x="339.7" y="545.81" width="16.6" height="96.89" fill="#000"/>
<line x1="364.65" y1="565.27" x2="364.65" y2="563.66" stroke="#444" stroke-width="1"/>
<line x1="359.47" y1="563.66" x2="369.83" y2="563.66" stroke="#444" stroke-width="1"/>
<rect x="356.3" y="565.27" width="16.7" height="77.43" fill="#a6a6a6"/>
<line x1="398.65" y1="554.44" x2="398.65" y2="552.43" stroke="#000" stroke-width="1"/>
<line x1="393.47" y1="552.43" x2="403.83" y2="552.43" stroke="#000" stroke-width="1"/>
<rect x="390.3" y="554.44" width="16.7" height="88.26" fill="#000"/>
<line x1="415" y1="573.29" x2="415" y2="569.58" stroke="#444" stroke-width="1"/>
<line x1="410.04" y1="569.58" x2="419.96" y2="569.58" stroke="#444" stroke-width="1"/>
<rect x="407" y="573.29" width="16" height="69.41" fill="#a6a6a6"/>
<text x="358" y="540.6" font-size="9" text-anchor="middle" fill="#333">**</text>
<text x="407" y="550.6" font-size="9" text-anchor="middle" fill="#333">**</text>
<line x1="305.7" y1="642.7" x2="305.7" y2="645.4" stroke="#000" stroke-width="1"/>
<text x="306.3" y="656.7" font-size="10.4" text-anchor="middle" font-weight="bold">shCtrl</text>
<line x1="356.3" y1="642.7" x2="356.3" y2="645.4" stroke="#000" stroke-width="1"/>
<text x="354.7" y="656.7" font-size="10.4" text-anchor="middle" font-weight="bold">shM23#a</text>
<line x1="407" y1="642.7" x2="407" y2="645.4" stroke="#000" stroke-width="1"/>
<text x="408" y="656.7" font-size="10.4" text-anchor="middle" font-weight="bold">shM23#b</text>
<rect x="291.3" y="516.7" width="11.7" height="5" fill="#000"/>
<text x="307.3" y="522.7" font-size="10" text-anchor="start" font-weight="bold">Mock</text>
<rect x="291.3" y="528.3" width="11.7" height="5" fill="#a6a6a6"/>
<text x="307.3" y="533.5" font-size="10" text-anchor="start" font-weight="bold">mIgf2</text>
</g>
<g id="panelH">
<text x="456.6" y="523" font-size="13.2" text-anchor="start" font-weight="bold" class="sf">H</text>
<line x1="488.8" y1="538.5" x2="488.8" y2="642.2" stroke="#000" stroke-width="1"/>
<line x1="488.3" y1="641.7" x2="643.3" y2="641.7" stroke="#000" stroke-width="1"/>
<line x1="486.1" y1="539" x2="488.8" y2="539" stroke="#000" stroke-width="1"/>
<text x="485.1" y="541.7" font-size="7.5" text-anchor="end" font-weight="bold">100</text>
<line x1="486.1" y1="559.54" x2="488.8" y2="559.54" stroke="#000" stroke-width="1"/>
<text x="485.1" y="562.24" font-size="7.5" text-anchor="end" font-weight="bold">80</text>
<line x1="486.1" y1="580.08" x2="488.8" y2="580.08" stroke="#000" stroke-width="1"/>
<text x="485.1" y="582.78" font-size="7.5" text-anchor="end" font-weight="bold">60</text>
<line x1="486.1" y1="600.62" x2="488.8" y2="600.62" stroke="#000" stroke-width="1"/>
<text x="485.1" y="603.32" font-size="7.5" text-anchor="end" font-weight="bold">40</text>
<line x1="486.1" y1="621.16" x2="488.8" y2="621.16" stroke="#000" stroke-width="1"/>
<text x="485.1" y="623.86" font-size="7.5" text-anchor="end" font-weight="bold">20</text>
<line x1="486.1" y1="641.7" x2="488.8" y2="641.7" stroke="#000" stroke-width="1"/>
<text x="485.1" y="644.4" font-size="7.5" text-anchor="end" font-weight="bold">0</text>
<text transform="translate(470.6 590.6) rotate(-90)" font-size="10.3" text-anchor="middle" font-weight="bold">DCFH-DA mean intensity</text>
<line x1="506.5" y1="574.02" x2="506.5" y2="569.09" stroke="#000" stroke-width="1"/>
<line x1="501.11" y1="569.09" x2="511.89" y2="569.09" stroke="#000" stroke-width="1"/>
<rect x="497.8" y="574.02" width="17.4" height="67.68" fill="#000"/>
<line x1="523.75" y1="590.14" x2="523.75" y2="587.06" stroke="#444" stroke-width="1"/>
<line x1="518.45" y1="587.06" x2="529.05" y2="587.06" stroke="#444" stroke-width="1"/>
<rect x="515.2" y="590.14" width="17.1" height="51.56" fill="#a6a6a6"/>
<line x1="558" y1="561.7" x2="558" y2="558.31" stroke="#000" stroke-width="1"/>
<line x1="552.79" y1="558.31" x2="563.21" y2="558.31" stroke="#000" stroke-width="1"/>
<rect x="549.6" y="561.7" width="16.8" height="80" fill="#000"/>
<line x1="575.1" y1="592.51" x2="575.1" y2="589.43" stroke="#444" stroke-width="1"/>
<line x1="569.71" y1="589.43" x2="580.49" y2="589.43" stroke="#444" stroke-width="1"/>
<rect x="566.4" y="592.51" width="17.4" height="49.19" fill="#a6a6a6"/>
<line x1="609.15" y1="560.98" x2="609.15" y2="555.64" stroke="#000" stroke-width="1"/>
<line x1="603.97" y1="555.64" x2="614.33" y2="555.64" stroke="#000" stroke-width="1"/>
<rect x="600.8" y="560.98" width="16.7" height="80.72" fill="#000"/>
<line x1="626.25" y1="588.09" x2="626.25" y2="585.42" stroke="#444" stroke-width="1"/>
<line x1="620.83" y1="585.42" x2="631.67" y2="585.42" stroke="#444" stroke-width="1"/>
<rect x="617.5" y="588.09" width="17.5" height="53.61" fill="#a6a6a6"/>
<text x="516.2" y="568.6" font-size="9" text-anchor="middle" fill="#333">*</text>
<text x="568.7" y="555.6" font-size="9" text-anchor="middle" fill="#333">***</text>
<text x="620.5" y="553.1" font-size="9" text-anchor="middle" fill="#333">**</text>
<line x1="515.2" y1="641.7" x2="515.2" y2="644.4" stroke="#000" stroke-width="1"/>
<text x="516.9" y="655.7" font-size="10.4" text-anchor="middle" font-weight="bold">shCtrl</text>
<line x1="566.4" y1="641.7" x2="566.4" y2="644.4" stroke="#000" stroke-width="1"/>
<text x="567.4" y="655.7" font-size="10.4" text-anchor="middle" font-weight="bold">shM23#a</text>
<line x1="617.5" y1="641.7" x2="617.5" y2="644.4" stroke="#000" stroke-width="1"/>
<text x="619.2" y="655.7" font-size="10.4" text-anchor="middle" font-weight="bold">shM23#b</text>
<rect x="501" y="520.7" width="12" height="5.7" fill="#000"/>
<text x="517.9" y="527.4" font-size="10" text-anchor="start" font-weight="bold">Mock</text>
<rect x="501" y="531.4" width="12" height="5" fill="#a6a6a6"/>
<text x="517.9" y="536.6" font-size="10" text-anchor="start" font-weight="bold">mIgf2</text>
</g>
<defs>
<filter id="b05" filterUnits="userSpaceOnUse" x="0" y="0" width="685" height="960"><feGaussianBlur stdDeviation="0.5"/></filter>
<filter id="b08" filterUnits="userSpaceOnUse" x="0" y="0" width="685" height="960"><feGaussianBlur stdDeviation="0.8"/></filter>
<filter id="b12" filterUnits="userSpaceOnUse" x="0" y="0" width="685" height="960"><feGaussianBlur stdDeviation="1.2"/></filter>
<filter id="b18" filterUnits="userSpaceOnUse" x="0" y="0" width="685" height="960"><feGaussianBlur stdDeviation="1.8"/></filter>
<filter id="b30" filterUnits="userSpaceOnUse" x="0" y="0" width="685" height="960"><feGaussianBlur stdDeviation="3.0"/></filter>
<linearGradient id="gT1" x1="0" x2="1" y1="0" y2="0"><stop offset="0" stop-color="#c6c6c6"/><stop offset=".45" stop-color="#d8d8d8"/><stop offset="1" stop-color="#dedede"/></linearGradient>
<linearGradient id="gH1" x1="0" x2="1" y1="0" y2="0"><stop offset="0" stop-color="#e6e6e6"/><stop offset=".5" stop-color="#f2f2f2"/><stop offset="1" stop-color="#f6f6f6"/></linearGradient>
</defs>
<g id="panelE">
<text x="393.7" y="328" font-size="12.5" text-anchor="start" font-weight="bold" class="sf">E</text>
<text x="446.5" y="384.5" font-size="11.5" text-anchor="end" font-weight="bold">MED23</text>
<text x="446.5" y="418.5" font-size="11.5" text-anchor="end" font-weight="bold">IGF2</text>
<text x="446.5" y="452.2" font-size="11.5" text-anchor="end" font-weight="bold">β-ACTIN</text>
<text x="468.2" y="361.5" font-size="10.8" text-anchor="start" font-weight="bold" transform="rotate(-45 468.2 361.5)">shCtrl</text>
<text x="501.2" y="361.5" font-size="10.8" text-anchor="start" font-weight="bold" transform="rotate(-45 501.2 361.5)">shM23#a</text>
<text x="531.2" y="361.5" font-size="10.8" text-anchor="start" font-weight="bold" transform="rotate(-45 531.2 361.5)">shM23#b</text>
<text x="586.3" y="360.5" font-size="10.8" text-anchor="start" font-weight="bold" transform="rotate(-45 586.3 360.5)">shCtrl</text>
<text x="618.5" y="360.5" font-size="10.8" text-anchor="start" font-weight="bold" transform="rotate(-45 618.5 360.5)">shM23#a</text>
<text x="648.5" y="360.5" font-size="10.8" text-anchor="start" font-weight="bold" transform="rotate(-45 648.5 360.5)">shM23#b</text>
<clipPath id="c1"><rect x="449" y="364.4" width="105.4" height="28.2"/></clipPath>
<g clip-path="url(#c1)">
<rect x="449" y="364.4" width="105.4" height="28.2" fill="url(#gH1)"/>
<g filter="url(#b30)" fill="none" stroke-linecap="round">
<path d="M460.64 374H481.36" stroke="#000" stroke-width="5.78" opacity="0.11"/>
<path d="M460.48 379.2Q470 380 479.52 379.2" stroke="#000" stroke-width="6.46" opacity="0.26"/>
</g>
<g filter="url(#b18)" fill="none" stroke-linecap="round">
<path d="M460.2 374H481.8" stroke="#000" stroke-width="3.4" opacity="0.38"/>
<path d="M494 376H514" stroke="#000" stroke-width="4" opacity="0.13"/>
<path d="M527 376H547" stroke="#000" stroke-width="4" opacity="0.1"/>
</g>
<g filter="url(#b12)" fill="none" stroke-linecap="round">
<path d="M459.9 379.2Q470 380 480.1 379.2" stroke="#000" stroke-width="3.8" opacity="0.85"/>
</g>
</g>
<rect x="449.75" y="365.15" width="103.9" height="26.7" fill="none" stroke="#000" stroke-width="1.5"/>
<clipPath id="c2"><rect x="449" y="395.6" width="105.4" height="36"/></clipPath>
<g clip-path="url(#c2)">
<rect x="449" y="395.6" width="105.4" height="36" fill="#dfdfdf"/>
<g filter="url(#b30)" fill="none" stroke-linecap="round">
<path d="M459.48 415H476.52" stroke="#000" stroke-width="14.45" opacity="0.3"/>
<path d="M494.27 414H511.73" stroke="#000" stroke-width="11.05" opacity="0.22"/>
<path d="M528.75 413.6H546.05" stroke="#000" stroke-width="10.2" opacity="0.2"/>
</g>
<g filter="url(#b18)" fill="none" stroke-linecap="round">
<path d="M457.25 415H478.75" stroke="#000" stroke-width="8.5" opacity="1"/>
<path d="M492.75 414H513.25" stroke="#000" stroke-width="6.5" opacity="0.75"/>
<path d="M527.4 413.6H547.4" stroke="#000" stroke-width="6" opacity="0.68"/>
</g>
</g>
<rect x="449.75" y="396.35" width="103.9" height="34.5" fill="none" stroke="#000" stroke-width="1.5"/>
<clipPath id="c3"><rect x="449" y="434.4" width="105.4" height="30"/></clipPath>
<g clip-path="url(#c3)">
<rect x="449" y="434.4" width="105.4" height="30" fill="#f6f6f6"/>
<g filter="url(#b30)" fill="none" stroke-linecap="round">
<path d="M455.64 448.2Q468 449 480.36 448.2" stroke="#000" stroke-width="5.78" opacity="0.21"/>
<path d="M490.47 448.5Q502 449.5 513.53 448.5" stroke="#000" stroke-width="5.44" opacity="0.21"/>
<path d="M523.81 447.7Q535 448.3 546.19 447.7" stroke="#000" stroke-width="6.12" opacity="0.26"/>
</g>
<g filter="url(#b12)" fill="none" stroke-linecap="round">
<path d="M455.2 448.2Q468 449 480.8 448.2" stroke="#000" stroke-width="3.4" opacity="0.7"/>
<path d="M490.1 448.5Q502 449.5 513.9 448.5" stroke="#000" stroke-width="3.2" opacity="0.7"/>
<path d="M523.3 447.7Q535 448.3 546.7 447.7" stroke="#000" stroke-width="3.6" opacity="0.85"/>
<path d="M454 458H478" stroke="#000" stroke-width="2" opacity="0.22"/>
<path d="M490.8 458H513.2" stroke="#000" stroke-width="1.6" opacity="0.08"/>
<path d="M522.9 457.6H547.1" stroke="#000" stroke-width="1.8" opacity="0.18"/>
</g>
</g>
<rect x="449.75" y="435.15" width="103.9" height="28.5" fill="none" stroke="#000" stroke-width="1.5"/>
<clipPath id="c4"><rect x="558" y="364.4" width="121.4" height="28.2"/></clipPath>
<g clip-path="url(#c4)">
<rect x="558" y="364.4" width="121.4" height="28.2" fill="url(#gT1)"/>
<g filter="url(#b30)" fill="none" stroke-linecap="round">
<path d="M569.99 382.4H593.01" stroke="#000" stroke-width="7.48" opacity="0.07"/>
<path d="M651.16 370.2H671.84" stroke="#000" stroke-width="7.82" opacity="0.08"/>
<path d="M652.44 370.2H654.96" stroke="#000" stroke-width="7.48" opacity="0.07"/>
<path d="M667.91 370H670.09" stroke="#000" stroke-width="7.82" opacity="0.08"/>
</g>
<g filter="url(#b18)" fill="none" stroke-linecap="round">
<path d="M569.2 382.4H593.8" stroke="#000" stroke-width="4.4" opacity="0.33"/>
<path d="M612.75 380H635.25" stroke="#000" stroke-width="3.5" opacity="0.05"/>
<path d="M650.3 370.2H672.7" stroke="#000" stroke-width="4.6" opacity="0.42"/>
<path d="M650.3 380H672.7" stroke="#000" stroke-width="4.6" opacity="0.24"/>
</g>
<g filter="url(#b12)" fill="none" stroke-linecap="round">
<path d="M651.65 370.2H655.75" stroke="#000" stroke-width="4.4" opacity="0.34"/>
<path d="M667.05 370H670.95" stroke="#000" stroke-width="4.6" opacity="0.42"/>
</g>
</g>
<rect x="558.75" y="365.15" width="119.9" height="26.7" fill="none" stroke="#000" stroke-width="1.5"/>
<clipPath id="c5"><rect x="558" y="395.6" width="121.4" height="36"/></clipPath>
<g clip-path="url(#c5)">
<rect x="558" y="395.6" width="121.4" height="36" fill="#979797"/>
<g filter="url(#b30)" fill="none" stroke-linecap="round">
<path d="M566.68 413.2H590.72" stroke="#000" stroke-width="6.46" opacity="0.08"/>
<path d="M608.31 414.2H630.69" stroke="#000" stroke-width="6.12" opacity="0.07"/>
<path d="M676 430H678" stroke="#000" stroke-width="8.5" opacity="0.07"/>
</g>
<g filter="url(#b18)" fill="none" stroke-linecap="round">
<path d="M622.99 419.2H623.41" stroke="#000" stroke-width="4.08" opacity="0.08"/>
<path d="M566.1 413.2H591.3" stroke="#000" stroke-width="3.8" opacity="0.42"/>
<path d="M607.8 414.2H631.2" stroke="#000" stroke-width="3.6" opacity="0.36"/>
<path d="M651 417.5H673" stroke="#fff" stroke-width="4" opacity="0.06"/>
</g>
<g filter="url(#b08)" fill="none" stroke-linecap="round">
<path d="M622.9 419.2H623.5" stroke="#000" stroke-width="2.4" opacity="0.4"/>
<path d="M652.8 410.8H653.2" stroke="#000" stroke-width="1.6" opacity="0.15"/>
<path d="M674.8 411H675.2" stroke="#000" stroke-width="1.6" opacity="0.15"/>
</g>
<g filter="url(#b12)" fill="none" stroke-linecap="round">
<path d="M675 430H679" stroke="#000" stroke-width="5" opacity="0.35"/>
</g>
</g>
<rect x="558.75" y="396.35" width="119.9" height="34.5" fill="none" stroke="#000" stroke-width="1.5"/>
<clipPath id="c6"><rect x="557.6" y="434.4" width="122.8" height="30.6"/></clipPath>
<g clip-path="url(#c6)">
<rect x="557.6" y="434.4" width="122.8" height="30.6" fill="#f3f3f3"/>
<g filter="url(#b30)" fill="none" stroke-linecap="round">
<path d="M567 449.6H591" stroke="#000" stroke-width="8.5" opacity="0.17"/>
<path d="M607.83 448.8H632.17" stroke="#000" stroke-width="8.16" opacity="0.18"/>
<path d="M646.84 450.8Q660 452 673.16 450.8" stroke="#000" stroke-width="9.18" opacity="0.21"/>
</g>
<g filter="url(#b18)" fill="none" stroke-linecap="round">
<path d="M566 449.6H592" stroke="#000" stroke-width="5" opacity="0.5"/>
<path d="M606.9 448.8H633.1" stroke="#000" stroke-width="4.8" opacity="0.52"/>
<path d="M645.7 450.8Q660 452 674.3 450.8" stroke="#000" stroke-width="5.4" opacity="0.6"/>
</g>
<g filter="url(#b12)" fill="none" stroke-linecap="round">
<path d="M560.8 437.5H679.2" stroke="#000" stroke-width="1.6" opacity="0.06"/>
</g>
</g>
<rect x="558.35" y="435.15" width="121.3" height="29.1" fill="none" stroke="#000" stroke-width="1.5"/>
<text x="502.4" y="480" font-size="11.3" text-anchor="middle" font-weight="bold">HepG2</text>
<text x="619" y="480" font-size="11.3" text-anchor="middle" font-weight="bold">Tong</text>
</g>
<g id="panelI">
<text x="68.3" y="689.3" font-size="12.5" text-anchor="start" font-weight="bold" class="sf">I</text>
<text x="156.7" y="704.8" font-size="11.6" text-anchor="end" font-weight="bold">shCtrl</text>
<text x="156.7" y="721.6" font-size="11.6" text-anchor="end" font-weight="bold">shMED23#a</text>
<text x="156.7" y="739.5" font-size="11.6" text-anchor="end" font-weight="bold">shMED23#b</text>
<text x="156.7" y="759" font-size="11.6" text-anchor="end" font-weight="bold">IGF2</text>
<text x="154" y="791.4" font-size="11.5" text-anchor="end" font-weight="bold">MED23</text>
<text x="153.6" y="826.1" font-size="11.5" text-anchor="end" font-weight="bold">NQO1</text>
<text x="154" y="855.9" font-size="11.5" text-anchor="end" font-weight="bold">GAPDH</text>
<line x1="170.4" y1="700" x2="178" y2="700" stroke="#000" stroke-width="1.9"/>
<line x1="174.2" y1="696.2" x2="174.2" y2="703.8" stroke="#000" stroke-width="1.9"/>
<line x1="194.5" y1="698.2" x2="200.7" y2="698.2" stroke="#000" stroke-width="2.3"/>
<line x1="219.8" y1="698.2" x2="226" y2="698.2" stroke="#000" stroke-width="2.3"/>
<line x1="244.1" y1="700" x2="251.7" y2="700" stroke="#000" stroke-width="1.9"/>
<line x1="247.9" y1="696.2" x2="247.9" y2="703.8" stroke="#000" stroke-width="1.9"/>
<line x1="267.3" y1="698.2" x2="273.5" y2="698.2" stroke="#000" stroke-width="2.3"/>
<line x1="292.3" y1="698.2" x2="298.5" y2="698.2" stroke="#000" stroke-width="2.3"/>
<line x1="171.1" y1="716.7" x2="177.3" y2="716.7" stroke="#000" stroke-width="2.3"/>
<line x1="193.8" y1="718.2" x2="201.4" y2="718.2" stroke="#000" stroke-width="1.9"/>
<line x1="197.6" y1="714.4" x2="197.6" y2="722" stroke="#000" stroke-width="1.9"/>
<line x1="219.8" y1="716.7" x2="226" y2="716.7" stroke="#000" stroke-width="2.3"/>
<line x1="244.8" y1="716.7" x2="251" y2="716.7" stroke="#000" stroke-width="2.3"/>
<line x1="266.6" y1="718.2" x2="274.2" y2="718.2" stroke="#000" stroke-width="1.9"/>
<line x1="270.4" y1="714.4" x2="270.4" y2="722" stroke="#000" stroke-width="1.9"/>
<line x1="292.3" y1="716.7" x2="298.5" y2="716.7" stroke="#000" stroke-width="2.3"/>
<line x1="171.1" y1="735.4" x2="177.3" y2="735.4" stroke="#000" stroke-width="2.3"/>
<line x1="194.5" y1="735.4" x2="200.7" y2="735.4" stroke="#000" stroke-width="2.3"/>
<line x1="219.1" y1="736.7" x2="226.7" y2="736.7" stroke="#000" stroke-width="1.9"/>
<line x1="222.9" y1="732.9" x2="222.9" y2="740.5" stroke="#000" stroke-width="1.9"/>
<line x1="244.8" y1="735.4" x2="251" y2="735.4" stroke="#000" stroke-width="2.3"/>
<line x1="267.3" y1="735.4" x2="273.5" y2="735.4" stroke="#000" stroke-width="2.3"/>
<line x1="291.6" y1="736.7" x2="299.2" y2="736.7" stroke="#000" stroke-width="1.9"/>
<line x1="295.4" y1="732.9" x2="295.4" y2="740.5" stroke="#000" stroke-width="1.9"/>
<line x1="171.1" y1="756.6" x2="177.3" y2="756.6" stroke="#000" stroke-width="2.3"/>
<line x1="194.5" y1="756.6" x2="200.7" y2="756.6" stroke="#000" stroke-width="2.3"/>
<line x1="219.8" y1="756.6" x2="226" y2="756.6" stroke="#000" stroke-width="2.3"/>
<line x1="244.1" y1="757.9" x2="251.7" y2="757.9" stroke="#000" stroke-width="1.9"/>
<line x1="247.9" y1="754.1" x2="247.9" y2="761.7" stroke="#000" stroke-width="1.9"/>
<line x1="266.6" y1="757.9" x2="274.2" y2="757.9" stroke="#000" stroke-width="1.9"/>
<line x1="270.4" y1="754.1" x2="270.4" y2="761.7" stroke="#000" stroke-width="1.9"/>
<line x1="291.6" y1="757.9" x2="299.2" y2="757.9" stroke="#000" stroke-width="1.9"/>
<line x1="295.4" y1="754.1" x2="295.4" y2="761.7" stroke="#000" stroke-width="1.9"/>
<clipPath id="c7"><rect x="160.5" y="767.9" width="163.5" height="31.2"/></clipPath>
<g clip-path="url(#c7)">
<rect x="160.5" y="767.9" width="163.5" height="31.2" fill="#fbfbfb"/>
<g filter="url(#b18)" fill="none" stroke-linecap="round">
<path d="M165.9 785.1Q174.6 783.3 183.3 785.1" stroke="#000" stroke-width="5.1" opacity="0.25"/>
<path d="M191.28 785.6Q200.5 783.6 209.72 785.6" stroke="#000" stroke-width="3.06" opacity="0.12"/>
<path d="M216.35 785.3Q225.4 783.5 234.45 785.3" stroke="#000" stroke-width="3.4" opacity="0.17"/>
<path d="M243.07 784.9Q251.6 783.1 260.13 784.9" stroke="#000" stroke-width="5.44" opacity="0.25"/>
<path d="M267.38 785.3Q276.6 783.1 285.82 785.3" stroke="#000" stroke-width="3.06" opacity="0.11"/>
</g>
<g filter="url(#b08)" fill="none" stroke-linecap="round">
<path d="M165.6 785.1Q174.6 783.3 183.6 785.1" stroke="#000" stroke-width="3" opacity="1"/>
<path d="M191.4 785.6Q200.5 783.6 209.6 785.6" stroke="#000" stroke-width="1.8" opacity="0.5"/>
<path d="M216.4 785.3Q225.4 783.5 234.4 785.3" stroke="#000" stroke-width="2" opacity="0.68"/>
<path d="M242.7 784.9Q251.6 783.1 260.5 784.9" stroke="#000" stroke-width="3.2" opacity="1"/>
<path d="M267.5 785.3Q276.6 783.1 285.7 785.3" stroke="#000" stroke-width="1.8" opacity="0.45"/>
<path d="M293.5 785.3Q302.2 783.1 310.9 785.3" stroke="#000" stroke-width="1.6" opacity="0.25"/>
</g>
</g>
<rect x="161.25" y="768.65" width="162" height="29.7" fill="none" stroke="#000" stroke-width="1.5"/>
<clipPath id="c8"><rect x="160.5" y="802.3" width="163.5" height="31.7"/></clipPath>
<g clip-path="url(#c8)">
<rect x="160.5" y="802.3" width="163.5" height="31.7" fill="#fbfbfb"/>
<g filter="url(#b18)" fill="none" stroke-linecap="round">
<path d="M166.8 825.3Q175 823.5 183.2 825.3" stroke="#000" stroke-width="5.1" opacity="0.25"/>
<path d="M167.95 825.57H168.15" stroke="#000" stroke-width="6.8" opacity="0.25"/>
<path d="M181.85 825.57H182.05" stroke="#000" stroke-width="6.8" opacity="0.25"/>
<path d="M191.49 825.1Q199.7 823.3 207.91 825.1" stroke="#000" stroke-width="4.08" opacity="0.25"/>
<path d="M192.47 825.38H194.03" stroke="#000" stroke-width="5.44" opacity="0.25"/>
<path d="M205.37 825.38H206.93" stroke="#000" stroke-width="5.44" opacity="0.25"/>
<path d="M217.38 824.3Q226 822.9 234.62 824.3" stroke="#000" stroke-width="4.76" opacity="0.25"/>
<path d="M218.53 824.62H219.07" stroke="#000" stroke-width="6.46" opacity="0.25"/>
<path d="M232.93 824.62H233.47" stroke="#000" stroke-width="6.46" opacity="0.25"/>
<path d="M245.09 822.9Q252.6 821.5 260.11 822.9" stroke="#000" stroke-width="7.48" opacity="0.25"/>
<path d="M246.24 823.23H244.06" stroke="#000" stroke-width="9.18" opacity="0.25"/>
<path d="M261.14 823.23H258.96" stroke="#000" stroke-width="9.18" opacity="0.25"/>
<path d="M268.76 823Q277.2 821.8 285.64 823" stroke="#000" stroke-width="6.12" opacity="0.25"/>
<path d="M269.91 823.35H269.09" stroke="#000" stroke-width="7.82" opacity="0.25"/>
<path d="M285.31 823.35H284.49" stroke="#000" stroke-width="7.82" opacity="0.25"/>
<path d="M294.85 822.7Q303.2 821.7 311.55 822.7" stroke="#000" stroke-width="6.8" opacity="0.25"/>
<path d="M296 823.08H294.5" stroke="#000" stroke-width="8.5" opacity="0.25"/>
<path d="M311.9 823.08H310.4" stroke="#000" stroke-width="8.5" opacity="0.25"/>
<path d="M269.37 828.2H285.83" stroke="#000" stroke-width="2.04" opacity="0.07"/>
<path d="M294.97 828.2H311.43" stroke="#000" stroke-width="2.04" opacity="0.09"/>
</g>
<g filter="url(#b08)" fill="none" stroke-linecap="round">
<path d="M166.5 825.3Q175 823.5 183.5 825.3" stroke="#000" stroke-width="3" opacity="1"/>
<path d="M167.3 825.57H168.8" stroke="#000" stroke-width="4" opacity="1"/>
<path d="M181.2 825.57H182.7" stroke="#000" stroke-width="4" opacity="1"/>
<path d="M191.4 825.1Q199.7 823.3 208 825.1" stroke="#000" stroke-width="2.4" opacity="1"/>
<path d="M192.1 825.38H194.4" stroke="#000" stroke-width="3.2" opacity="1"/>
<path d="M205 825.38H207.3" stroke="#000" stroke-width="3.2" opacity="1"/>
<path d="M217.15 824.3Q226 822.9 234.85 824.3" stroke="#000" stroke-width="2.8" opacity="1"/>
<path d="M217.95 824.62H219.65" stroke="#000" stroke-width="3.8" opacity="1"/>
<path d="M232.35 824.62H234.05" stroke="#000" stroke-width="3.8" opacity="1"/>
<path d="M244.3 822.9Q252.6 821.5 260.9 822.9" stroke="#000" stroke-width="4.4" opacity="1"/>
<path d="M245.1 823.23H245.2" stroke="#000" stroke-width="5.4" opacity="1"/>
<path d="M260 823.23H260.1" stroke="#000" stroke-width="5.4" opacity="1"/>
<path d="M268.25 823Q277.2 821.8 286.15 823" stroke="#000" stroke-width="3.6" opacity="1"/>
<path d="M269.05 823.35H269.95" stroke="#000" stroke-width="4.6" opacity="1"/>
<path d="M284.45 823.35H285.35" stroke="#000" stroke-width="4.6" opacity="1"/>
<path d="M294.2 822.7Q303.2 821.7 312.2 822.7" stroke="#000" stroke-width="4" opacity="1"/>
<path d="M295 823.08H295.5" stroke="#000" stroke-width="5" opacity="1"/>
<path d="M310.9 823.08H311.4" stroke="#000" stroke-width="5" opacity="1"/>
<path d="M244.7 828.4H260.5" stroke="#000" stroke-width="1.2" opacity="0.25"/>
<path d="M269.7 828.2H285.5" stroke="#000" stroke-width="1.2" opacity="0.3"/>
<path d="M295.3 828.2H311.1" stroke="#000" stroke-width="1.2" opacity="0.35"/>
<path d="M270.1 830.6H285.1" stroke="#000" stroke-width="1" opacity="0.15"/>
<path d="M295.7 830.6H310.7" stroke="#000" stroke-width="1" opacity="0.2"/>
</g>
</g>
<rect x="161.25" y="803.05" width="162" height="30.2" fill="none" stroke="#000" stroke-width="1.5"/>
<clipPath id="c9"><rect x="160.5" y="837.3" width="163.5" height="29.2"/></clipPath>
<g clip-path="url(#c9)">
<rect x="160.5" y="837.3" width="163.5" height="29.2" fill="#fbfbfb"/>
<g filter="url(#b18)" fill="none" stroke-linecap="round">
<path d="M166.12 842.4Q175.1 844 184.07 842.4" stroke="#000" stroke-width="2.55" opacity="0.1"/>
<path d="M192.03 842.4Q201 844 209.97 842.4" stroke="#000" stroke-width="2.55" opacity="0.1"/>
<path d="M216.93 842.4Q225.9 844 234.88 842.4" stroke="#000" stroke-width="2.55" opacity="0.1"/>
<path d="M243.12 842.4Q252.1 844 261.08 842.4" stroke="#000" stroke-width="2.55" opacity="0.1"/>
<path d="M268.12 842.4Q277.1 844 286.08 842.4" stroke="#000" stroke-width="2.55" opacity="0.1"/>
<path d="M293.72 842.4Q302.7 844 311.68 842.4" stroke="#000" stroke-width="2.55" opacity="0.1"/>
<path d="M167.16 850.6Q175.1 848.6 183.04 850.6" stroke="#000" stroke-width="6.12" opacity="0.25"/>
<path d="M168.65 850.85H167.15" stroke="#000" stroke-width="8.5" opacity="0.25"/>
<path d="M183.05 850.85H181.55" stroke="#000" stroke-width="8.5" opacity="0.25"/>
<path d="M193.06 850.6Q201 848.6 208.94 850.6" stroke="#000" stroke-width="6.12" opacity="0.25"/>
<path d="M194.55 850.85H193.05" stroke="#000" stroke-width="8.5" opacity="0.25"/>
<path d="M208.95 850.85H207.45" stroke="#000" stroke-width="8.5" opacity="0.25"/>
<path d="M217.96 850.6Q225.9 848.6 233.84 850.6" stroke="#000" stroke-width="6.12" opacity="0.25"/>
<path d="M219.45 850.85H217.95" stroke="#000" stroke-width="8.5" opacity="0.25"/>
<path d="M233.85 850.85H232.35" stroke="#000" stroke-width="8.5" opacity="0.25"/>
<path d="M244.16 850.6Q252.1 848.6 260.04 850.6" stroke="#000" stroke-width="6.12" opacity="0.25"/>
<path d="M245.65 850.85H244.15" stroke="#000" stroke-width="8.5" opacity="0.25"/>
<path d="M260.05 850.85H258.55" stroke="#000" stroke-width="8.5" opacity="0.25"/>
<path d="M268.48 850.9Q277.1 848.9 285.72 850.9" stroke="#000" stroke-width="4.76" opacity="0.25"/>
<path d="M269.97 851.15H269.83" stroke="#000" stroke-width="7.14" opacity="0.25"/>
<path d="M284.37 851.15H284.23" stroke="#000" stroke-width="7.14" opacity="0.25"/>
<path d="M294.08 850.9Q302.7 848.9 311.32 850.9" stroke="#000" stroke-width="4.76" opacity="0.25"/>
<path d="M295.57 851.15H295.43" stroke="#000" stroke-width="7.14" opacity="0.25"/>
<path d="M309.97 851.15H309.83" stroke="#000" stroke-width="7.14" opacity="0.25"/>
</g>
<g filter="url(#b08)" fill="none" stroke-linecap="round">
<path d="M166.35 842.4Q175.1 844 183.85 842.4" stroke="#000" stroke-width="1.5" opacity="0.42"/>
<path d="M192.25 842.4Q201 844 209.75 842.4" stroke="#000" stroke-width="1.5" opacity="0.42"/>
<path d="M217.15 842.4Q225.9 844 234.65 842.4" stroke="#000" stroke-width="1.5" opacity="0.42"/>
<path d="M243.35 842.4Q252.1 844 260.85 842.4" stroke="#000" stroke-width="1.5" opacity="0.42"/>
<path d="M268.35 842.4Q277.1 844 285.85 842.4" stroke="#000" stroke-width="1.5" opacity="0.42"/>
<path d="M293.95 842.4Q302.7 844 311.45 842.4" stroke="#000" stroke-width="1.5" opacity="0.42"/>
<path d="M166.65 840.8Q175.1 842 183.55 840.8" stroke="#000" stroke-width="1.1" opacity="0.2"/>
<path d="M192.55 840.8Q201 842 209.45 840.8" stroke="#000" stroke-width="1.1" opacity="0.2"/>
<path d="M217.45 840.8Q225.9 842 234.35 840.8" stroke="#000" stroke-width="1.1" opacity="0.2"/>
<path d="M243.65 840.8Q252.1 842 260.55 840.8" stroke="#000" stroke-width="1.1" opacity="0.2"/>
<path d="M268.65 840.8Q277.1 842 285.55 840.8" stroke="#000" stroke-width="1.1" opacity="0.2"/>
<path d="M294.25 840.8Q302.7 842 311.15 840.8" stroke="#000" stroke-width="1.1" opacity="0.2"/>
<path d="M166.65 850.6Q175.1 848.6 183.55 850.6" stroke="#000" stroke-width="3.6" opacity="1"/>
<path d="M167.65 850.85H168.15" stroke="#000" stroke-width="5" opacity="1"/>
<path d="M182.05 850.85H182.55" stroke="#000" stroke-width="5" opacity="1"/>
<path d="M192.55 850.6Q201 848.6 209.45 850.6" stroke="#000" stroke-width="3.6" opacity="1"/>
<path d="M193.55 850.85H194.05" stroke="#000" stroke-width="5" opacity="1"/>
<path d="M207.95 850.85H208.45" stroke="#000" stroke-width="5" opacity="1"/>
<path d="M217.45 850.6Q225.9 848.6 234.35 850.6" stroke="#000" stroke-width="3.6" opacity="1"/>
<path d="M218.45 850.85H218.95" stroke="#000" stroke-width="5" opacity="1"/>
<path d="M232.85 850.85H233.35" stroke="#000" stroke-width="5" opacity="1"/>
<path d="M243.65 850.6Q252.1 848.6 260.55 850.6" stroke="#000" stroke-width="3.6" opacity="1"/>
<path d="M244.65 850.85H245.15" stroke="#000" stroke-width="5" opacity="1"/>
<path d="M259.05 850.85H259.55" stroke="#000" stroke-width="5" opacity="1"/>
<path d="M268.25 850.9Q277.1 848.9 285.95 850.9" stroke="#000" stroke-width="2.8" opacity="1"/>
<path d="M269.25 851.15H270.55" stroke="#000" stroke-width="4.2" opacity="1"/>
<path d="M283.65 851.15H284.95" stroke="#000" stroke-width="4.2" opacity="1"/>
<path d="M293.85 850.9Q302.7 848.9 311.55 850.9" stroke="#000" stroke-width="2.8" opacity="1"/>
<path d="M294.85 851.15H296.15" stroke="#000" stroke-width="4.2" opacity="1"/>
<path d="M309.25 851.15H310.55" stroke="#000" stroke-width="4.2" opacity="1"/>
</g>
</g>
<rect x="161.25" y="838.05" width="162" height="27.7" fill="none" stroke="#000" stroke-width="1.5"/>
<text x="240" y="883" font-size="11.5" text-anchor="middle" font-weight="bold">Tong</text>
</g>
<g id="panelJ">
<text x="361" y="695.8" font-size="13.8" text-anchor="start" font-weight="bold" class="sf">J</text>
<text x="464.3" y="703.3" font-size="11.4" text-anchor="end" font-weight="bold">BTZ/Baf A1</text>
<text x="462.3" y="719.5" font-size="11.6" text-anchor="end" font-weight="bold">Linsitinib(uM)</text>
<text x="464.3" y="744.1" font-size="11.5" text-anchor="end" font-weight="bold">p-IGF1R</text>
<text x="465.2" y="787.3" font-size="11.5" text-anchor="end" font-weight="bold">IGF1R</text>
<text x="463.5" y="820.8" font-size="11.5" text-anchor="end" font-weight="bold">p-AKT</text>
<text x="462.9" y="857.3" font-size="11.5" text-anchor="end" font-weight="bold">AKT</text>
<text x="464.3" y="900.1" font-size="11.5" text-anchor="end" font-weight="bold">NQO1</text>
<text x="463.5" y="934.5" font-size="11.5" text-anchor="end" font-weight="bold">GAPDH</text>
<line x1="483.1" y1="696.3" x2="489.3" y2="696.3" stroke="#000" stroke-width="2.3"/>
<line x1="506.2" y1="696.3" x2="512.4" y2="696.3" stroke="#000" stroke-width="2.3"/>
<line x1="527.3" y1="696.3" x2="533.5" y2="696.3" stroke="#000" stroke-width="2.3"/>
<line x1="549" y1="698.1" x2="556.6" y2="698.1" stroke="#000" stroke-width="1.9"/>
<line x1="552.8" y1="694.3" x2="552.8" y2="701.9" stroke="#000" stroke-width="1.9"/>
<line x1="571.1" y1="698.1" x2="578.7" y2="698.1" stroke="#000" stroke-width="1.9"/>
<line x1="574.9" y1="694.3" x2="574.9" y2="701.9" stroke="#000" stroke-width="1.9"/>
<text x="485.6" y="720.1" font-size="11" text-anchor="middle" stroke="#000" stroke-width=".35">0</text>
<text x="508.9" y="720.1" font-size="11" text-anchor="middle" stroke="#000" stroke-width=".35">3</text>
<text x="530.4" y="720.1" font-size="11" text-anchor="middle" stroke="#000" stroke-width=".35">6</text>
<text x="552.3" y="720.1" font-size="11" text-anchor="middle" stroke="#000" stroke-width=".35">3</text>
<text x="574.9" y="720.1" font-size="11" text-anchor="middle" stroke="#000" stroke-width=".35">6</text>
<clipPath id="c10"><rect x="469" y="721.2" width="129.2" height="39.6"/></clipPath>
<g clip-path="url(#c10)">
<rect x="469" y="721.2" width="129.2" height="39.6" fill="#d6d6d6"/>
<g filter="url(#b18)" fill="none" stroke-linecap="round">
<path d="M478.9 743H489.9" stroke="#000" stroke-width="13" opacity="0.17"/>
<path d="M475.35 739H493.45" stroke="#000" stroke-width="4.4" opacity="0.53"/>
<path d="M474.95 748H493.85" stroke="#000" stroke-width="3.6" opacity="0.32"/>
<path d="M503.8 743H514.8" stroke="#000" stroke-width="13" opacity="0.09"/>
<path d="M500.25 739H518.35" stroke="#000" stroke-width="4.4" opacity="0.28"/>
<path d="M499.85 748H518.75" stroke="#000" stroke-width="3.6" opacity="0.17"/>
<path d="M528.7 743H539.7" stroke="#000" stroke-width="13" opacity="0.08"/>
<path d="M525.15 739H543.25" stroke="#000" stroke-width="4.4" opacity="0.26"/>
<path d="M524.75 748H543.65" stroke="#000" stroke-width="3.6" opacity="0.15"/>
<path d="M553.1 743H564.1" stroke="#000" stroke-width="13" opacity="0.2"/>
<path d="M549.55 739H567.65" stroke="#000" stroke-width="4.4" opacity="0.61"/>
<path d="M549.15 748H568.05" stroke="#000" stroke-width="3.6" opacity="0.51"/>
<path d="M576.9 743H587.9" stroke="#000" stroke-width="13" opacity="0.17"/>
<path d="M573.35 739H591.45" stroke="#000" stroke-width="4.4" opacity="0.51"/>
<path d="M572.95 748H591.85" stroke="#000" stroke-width="3.6" opacity="0.42"/>
</g>
</g>
<rect x="469.57" y="721.78" width="128.05" height="38.45" fill="none" stroke="#000" stroke-width="1.15"/>
<clipPath id="c11"><rect x="469" y="764.2" width="129.2" height="32.4"/></clipPath>
<g clip-path="url(#c11)">
<rect x="469" y="764.2" width="129.2" height="32.4" fill="#e9e9e9"/>
<g filter="url(#b30)" fill="none" stroke-linecap="round">
<path d="M474.88 782.6H493.92" stroke="#000" stroke-width="6.46" opacity="0.18"/>
<path d="M500.53 782.2H518.07" stroke="#000" stroke-width="6.46" opacity="0.17"/>
<path d="M525.59 782.2H542.81" stroke="#000" stroke-width="5.78" opacity="0.16"/>
<path d="M552.62 780.8H566.58" stroke="#000" stroke-width="10.54" opacity="0.2"/>
<path d="M576.44 780.8H589.56" stroke="#000" stroke-width="10.88" opacity="0.2"/>
</g>
<g filter="url(#b12)" fill="none" stroke-linecap="round">
<path d="M474.3 782.6H494.5" stroke="#000" stroke-width="3.8" opacity="0.9"/>
<path d="M499.95 782.2H518.65" stroke="#000" stroke-width="3.8" opacity="0.85"/>
<path d="M525.15 782.2H543.25" stroke="#000" stroke-width="3.4" opacity="0.8"/>
<path d="M551.2 780.8H568" stroke="#000" stroke-width="6.2" opacity="1"/>
<path d="M574.95 780.8H591.05" stroke="#000" stroke-width="6.4" opacity="1"/>
</g>
</g>
<rect x="469.57" y="764.78" width="128.05" height="31.25" fill="none" stroke="#000" stroke-width="1.15"/>
<clipPath id="c12"><rect x="469" y="799.1" width="129" height="33.9"/></clipPath>
<g clip-path="url(#c12)">
<rect x="469" y="799.1" width="129" height="33.9" fill="#eeeeee"/>
<g filter="url(#b30)" fill="none" stroke-linecap="round">
<path d="M477.04 816.4H493.76" stroke="#000" stroke-width="5.78" opacity="0.13"/>
<path d="M551.07 815.6Q559.1 816.4 567.13 815.6" stroke="#000" stroke-width="5.44" opacity="0.14"/>
<path d="M574.57 814.8Q583.1 815.6 591.63 814.8" stroke="#000" stroke-width="5.44" opacity="0.14"/>
</g>
<g filter="url(#b12)" fill="none" stroke-linecap="round">
<path d="M476.6 816.4H494.2" stroke="#000" stroke-width="3.4" opacity="0.42"/>
<path d="M502.1 817.6H517.5" stroke="#000" stroke-width="2.6" opacity="0.14"/>
<path d="M527 817.4H542.4" stroke="#000" stroke-width="2.6" opacity="0.14"/>
<path d="M550.7 815.6Q559.1 816.4 567.5 815.6" stroke="#000" stroke-width="3.2" opacity="0.48"/>
<path d="M574.2 814.8Q583.1 815.6 592 814.8" stroke="#000" stroke-width="3.2" opacity="0.45"/>
</g>
</g>
<rect x="469.57" y="799.68" width="127.85" height="32.75" fill="none" stroke="#000" stroke-width="1.15"/>
<clipPath id="c13"><rect x="468.6" y="836.4" width="130.1" height="34"/></clipPath>
<g clip-path="url(#c13)">
<rect x="468.6" y="836.4" width="130.1" height="34" fill="#f6f6f6"/>
<path d="M571.5 855.4Q582 854.6 592.6 852.4" fill="none" stroke="#000" stroke-width="2.9" stroke-linecap="round" filter="url(#b08)"/>
<g filter="url(#b18)" fill="none" stroke-linecap="round">
<path d="M474.23 855.1Q484.6 855.7 494.97 855.1" stroke="#000" stroke-width="4.76" opacity="0.22"/>
<path d="M499.6 856Q509.3 856.4 519 856" stroke="#000" stroke-width="5.1" opacity="0.22"/>
<path d="M523.83 855.8Q533.7 856.2 543.57 855.8" stroke="#000" stroke-width="4.76" opacity="0.22"/>
<path d="M548.47 854.8Q557.5 854.4 566.53 854.8" stroke="#000" stroke-width="5.44" opacity="0.22"/>
</g>
<g filter="url(#b08)" fill="none" stroke-linecap="round">
<path d="M474 855.1Q484.6 855.7 495.2 855.1" stroke="#000" stroke-width="2.8" opacity="1"/>
<path d="M499.3 856Q509.3 856.4 519.3 856" stroke="#000" stroke-width="3" opacity="1"/>
<path d="M523.6 855.8Q533.7 856.2 543.8 855.8" stroke="#000" stroke-width="2.8" opacity="1"/>
<path d="M548.1 854.8Q557.5 854.4 566.9 854.8" stroke="#000" stroke-width="3.2" opacity="1"/>
</g>
<g filter="url(#b12)" fill="none" stroke-linecap="round">
<path d="M474.3 860.6H591.7" stroke="#000" stroke-width="2.6" opacity="0.17"/>
</g>
</g>
<rect x="469.18" y="836.98" width="128.95" height="32.85" fill="none" stroke="#000" stroke-width="1.15"/>
<clipPath id="c14"><rect x="468.2" y="873.8" width="129.4" height="40.7"/></clipPath>
<g clip-path="url(#c14)">
<rect x="468.2" y="873.8" width="129.4" height="40.7" fill="#e6e6e6"/>
<g filter="url(#b30)" fill="none" stroke-linecap="round">
<path d="M478.86 891.3Q486.7 890.7 494.54 891.3" stroke="#000" stroke-width="7.82" opacity="0.3"/>
<path d="M504.3 892.2H517.7" stroke="#000" stroke-width="5.1" opacity="0.17"/>
<path d="M528.87 891.6H541.93" stroke="#000" stroke-width="5.44" opacity="0.2"/>
<path d="M551.91 891H564.09" stroke="#000" stroke-width="7.82" opacity="0.3"/>
<path d="M575.65 892.4Q583 891.6 590.35 892.4" stroke="#000" stroke-width="6.8" opacity="0.26"/>
</g>
<g filter="url(#b12)" fill="none" stroke-linecap="round">
<path d="M478 891.3Q486.7 890.7 495.4 891.3" stroke="#000" stroke-width="4.6" opacity="1"/>
<path d="M504 892.2H518" stroke="#000" stroke-width="3" opacity="0.55"/>
<path d="M528.5 891.6H542.3" stroke="#000" stroke-width="3.2" opacity="0.65"/>
<path d="M551.05 891H564.95" stroke="#000" stroke-width="4.6" opacity="1"/>
<path d="M575 892.4Q583 891.6 591 892.4" stroke="#000" stroke-width="4" opacity="0.85"/>
</g>
</g>
<rect x="468.77" y="874.38" width="128.25" height="39.55" fill="none" stroke="#000" stroke-width="1.15"/>
<clipPath id="c15"><rect x="468" y="917.2" width="129.2" height="24.4"/></clipPath>
<g clip-path="url(#c15)">
<rect x="468" y="917.2" width="129.2" height="24.4" fill="#fbfbfb"/>
<g filter="url(#b18)" fill="none" stroke-linecap="round">
<path d="M474.65 928.4H495.35" stroke="#000" stroke-width="6.8" opacity="0.15"/>
<path d="M501.52 928.8H518.88" stroke="#000" stroke-width="7.14" opacity="0.15"/>
<path d="M525.52 928.8H542.88" stroke="#000" stroke-width="7.14" opacity="0.15"/>
<path d="M548.57 928.6H565.43" stroke="#000" stroke-width="7.14" opacity="0.15"/>
<path d="M571.6 928.8H590.8" stroke="#000" stroke-width="6.8" opacity="0.15"/>
</g>
<g filter="url(#b08)" fill="none" stroke-linecap="round">
<path d="M474 928.4H496" stroke="#000" stroke-width="4" opacity="1"/>
<path d="M500.8 928.8H519.6" stroke="#000" stroke-width="4.2" opacity="1"/>
<path d="M524.8 928.8H543.6" stroke="#000" stroke-width="4.2" opacity="1"/>
<path d="M547.85 928.6H566.15" stroke="#000" stroke-width="4.2" opacity="1"/>
<path d="M570.95 928.8H591.45" stroke="#000" stroke-width="4" opacity="1"/>
</g>
</g>
<rect x="468.57" y="917.78" width="128.05" height="23.25" fill="none" stroke="#000" stroke-width="1.15"/>
<text x="528.1" y="956.1" font-size="11.5" text-anchor="middle" font-weight="bold">Tong</text>
</g>
</svg>
</body></html>
